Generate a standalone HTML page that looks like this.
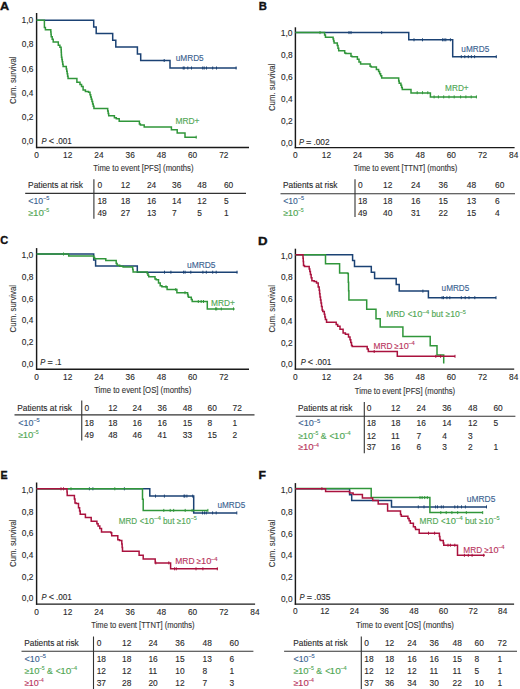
<!DOCTYPE html><html><head><meta charset="utf-8"><style>html,body{margin:0;padding:0;background:#fff;overflow:hidden;width:520px;height:689px;}svg{display:block;}text{font-family:"Liberation Sans",sans-serif;}</style></head><body>
<svg width="520" height="689" viewBox="0 0 520 689">
<rect width="520" height="689" fill="#fff"/>
<text x="-0.00" y="9.80" font-size="11" fill="#111" font-weight="bold" font-style="normal" stroke="#111" stroke-width="0.35" textLength="9.13" lengthAdjust="spacingAndGlyphs">A</text>
<text x="21.45" y="23.20" font-size="8.6" fill="#2a2a2a" font-weight="normal" font-style="normal" stroke="#2a2a2a" stroke-width="0.12" textLength="11.88" lengthAdjust="spacingAndGlyphs">1,0</text>
<text x="21.78" y="47.45" font-size="8.6" fill="#2a2a2a" font-weight="normal" font-style="normal" stroke="#2a2a2a" stroke-width="0.12" textLength="11.57" lengthAdjust="spacingAndGlyphs">0,8</text>
<text x="21.78" y="71.70" font-size="8.6" fill="#2a2a2a" font-weight="normal" font-style="normal" stroke="#2a2a2a" stroke-width="0.12" textLength="11.58" lengthAdjust="spacingAndGlyphs">0,6</text>
<text x="21.79" y="95.95" font-size="8.6" fill="#2a2a2a" font-weight="normal" font-style="normal" stroke="#2a2a2a" stroke-width="0.12" textLength="11.44" lengthAdjust="spacingAndGlyphs">0,4</text>
<text x="21.78" y="120.20" font-size="8.6" fill="#2a2a2a" font-weight="normal" font-style="normal" stroke="#2a2a2a" stroke-width="0.12" textLength="11.64" lengthAdjust="spacingAndGlyphs">0,2</text>
<text x="21.78" y="144.45" font-size="8.6" fill="#2a2a2a" font-weight="normal" font-style="normal" stroke="#2a2a2a" stroke-width="0.12" textLength="11.53" lengthAdjust="spacingAndGlyphs">0,0</text>
<text x="34.29" y="157.90" font-size="8.3" fill="#2a2a2a" text-anchor="start" font-style="normal" font-weight="normal" stroke="#2a2a2a" stroke-width="0.12">0</text>
<text x="63.08" y="157.90" font-size="8.3" fill="#2a2a2a" text-anchor="start" font-style="normal" font-weight="normal" stroke="#2a2a2a" stroke-width="0.12">12</text>
<text x="94.29" y="157.90" font-size="8.3" fill="#2a2a2a" text-anchor="start" font-style="normal" font-weight="normal" stroke="#2a2a2a" stroke-width="0.12">24</text>
<text x="125.61" y="157.90" font-size="8.3" fill="#2a2a2a" text-anchor="start" font-style="normal" font-weight="normal" stroke="#2a2a2a" stroke-width="0.12">36</text>
<text x="156.87" y="157.90" font-size="8.3" fill="#2a2a2a" text-anchor="start" font-style="normal" font-weight="normal" stroke="#2a2a2a" stroke-width="0.12">48</text>
<text x="187.94" y="157.90" font-size="8.3" fill="#2a2a2a" text-anchor="start" font-style="normal" font-weight="normal" stroke="#2a2a2a" stroke-width="0.12">60</text>
<text x="219.19" y="157.90" font-size="8.3" fill="#2a2a2a" text-anchor="start" font-style="normal" font-weight="normal" stroke="#2a2a2a" stroke-width="0.12">72</text>
<line x1="36.6" y1="13.0" x2="36.6" y2="148.15" stroke="#1a1a1a" stroke-width="1.45"/>
<line x1="35.95" y1="147.5" x2="249.0" y2="147.5" stroke="#1a1a1a" stroke-width="1.45"/>
<text x="93.33" y="170.80" font-size="9.4" fill="#333" font-weight="normal" font-style="normal" stroke="#333" stroke-width="0.12" textLength="100.14" lengthAdjust="spacingAndGlyphs">Time to event [PFS] (months)</text>
<g transform="translate(16.1,80.3) rotate(-90)"><text x="-23.69" y="0" font-size="9.5" fill="#333" stroke="#333" stroke-width="0.12" textLength="47.51" lengthAdjust="spacingAndGlyphs">Cum. survival</text></g>
<text x="41.57" y="143.90" font-size="8.5" fill="#2a2a2a" font-weight="normal" font-style="italic" stroke="#2a2a2a" stroke-width="0.12" textLength="5.07" lengthAdjust="spacingAndGlyphs">P</text>
<text x="48.67" y="143.90" font-size="8.5" fill="#2a2a2a" font-weight="normal" font-style="normal" stroke="#2a2a2a" stroke-width="0.12" textLength="5.27" lengthAdjust="spacingAndGlyphs">&lt;</text>
<text x="56.07" y="143.90" font-size="8.5" fill="#2a2a2a" font-weight="normal" font-style="normal" stroke="#2a2a2a" stroke-width="0.12" textLength="15.82" lengthAdjust="spacingAndGlyphs">.001</text>
<path d="M36.6 20.15 H93.7 V26.9 H96.2 V33.5 H112.7 V40.2 H115.8 V47.0 H137.4 V53.9 H140.7 V60.5 H170.0 V68.0 H236.5" fill="none" stroke="#1b4274" stroke-width="1.5" stroke-linejoin="miter"/>
<line x1="164.2" y1="59.0" x2="164.2" y2="62.0" stroke="#1b4274" stroke-width="1.0"/>
<line x1="183.2" y1="66.5" x2="183.2" y2="69.5" stroke="#1b4274" stroke-width="1.0"/>
<line x1="184.2" y1="66.5" x2="184.2" y2="69.5" stroke="#1b4274" stroke-width="1.0"/>
<line x1="187.8" y1="66.5" x2="187.8" y2="69.5" stroke="#1b4274" stroke-width="1.0"/>
<line x1="191.5" y1="66.5" x2="191.5" y2="69.5" stroke="#1b4274" stroke-width="1.0"/>
<line x1="202.7" y1="66.5" x2="202.7" y2="69.5" stroke="#1b4274" stroke-width="1.0"/>
<line x1="204.2" y1="66.5" x2="204.2" y2="69.5" stroke="#1b4274" stroke-width="1.0"/>
<line x1="206.5" y1="66.5" x2="206.5" y2="69.5" stroke="#1b4274" stroke-width="1.0"/>
<line x1="212.7" y1="66.5" x2="212.7" y2="69.5" stroke="#1b4274" stroke-width="1.0"/>
<line x1="216.5" y1="66.5" x2="216.5" y2="69.5" stroke="#1b4274" stroke-width="1.0"/>
<line x1="236.1" y1="66.5" x2="236.1" y2="69.5" stroke="#1b4274" stroke-width="1.0"/>
<path d="M36.6 20.15 H44.4 V22.77 H44.40 V25.40 H44.40 V27.60 H45.40 V29.80 H46.40 H50.8 V32.00 H51.00 V34.20 H51.20 V36.75 H52.20 V39.30 H53.20 V42.10 H54.80 H58.3 V45.30 H59.90 V47.30 H61.10 V49.83 H61.23 V52.37 H61.37 V54.90 H61.50 V57.22 H61.90 V59.54 H62.30 V61.86 H62.70 V64.18 H63.10 V66.50 H63.50 H66.3 V68.92 H66.74 V71.34 H67.18 V73.76 H67.62 V76.18 H68.06 V78.60 H68.50 H76.9 V82.30 H80.00 V84.40 H81.55 V86.50 H83.10 V90.00 H85.40 V91.50 H88.50 V92.30 H90.00 V94.63 H90.66 V96.96 H91.31 V99.29 H91.97 V101.61 H92.63 V103.94 H93.29 V106.27 H93.94 V108.60 H94.60 H107.7 V111.05 H108.20 V113.50 H108.70 V115.80 H110.60 H114.4 V117.70 H116.30 V118.80 H119.20 V121.20 H121.20 H139.4 V124.00 H140.40 V125.00 H144.20 V126.90 H145.20 H171.4 V129.7 H177.2 V133.0 H185.0 V137.2 H196.5" fill="none" stroke="#30963a" stroke-width="1.5" stroke-linejoin="miter"/>
<line x1="196.2" y1="135.7" x2="196.2" y2="138.7" stroke="#30963a" stroke-width="1.0"/>
<text x="175.67" y="61.00" font-size="8.3" fill="#3a6290" font-weight="normal" font-style="normal" stroke="#3a6290" stroke-width="0.12" textLength="28.07" lengthAdjust="spacingAndGlyphs">uMRD5</text>
<text x="175.41" y="123.70" font-size="8.3" fill="#4fa653" font-weight="normal" font-style="normal" stroke="#4fa653" stroke-width="0.12" textLength="24.09" lengthAdjust="spacingAndGlyphs">MRD+</text>
<text x="28.11" y="188.40" font-size="8.4" fill="#2a2a2a" font-weight="normal" font-style="normal" stroke="#2a2a2a" stroke-width="0.12" textLength="54.87" lengthAdjust="spacingAndGlyphs">Patients at risk</text>
<line x1="93.9" y1="179.2" x2="93.9" y2="218.7" stroke="#333" stroke-width="1.1"/>
<line x1="25.2" y1="193.4" x2="246.0" y2="193.4" stroke="#333" stroke-width="1.1"/>
<text x="97.38" y="188.40" font-size="8.4" fill="#2a2a2a" text-anchor="start" font-style="normal" font-weight="normal" stroke="#2a2a2a" stroke-width="0.12">0</text>
<text x="120.86" y="188.40" font-size="8.4" fill="#2a2a2a" text-anchor="start" font-style="normal" font-weight="normal" stroke="#2a2a2a" stroke-width="0.12">12</text>
<text x="146.88" y="188.40" font-size="8.4" fill="#2a2a2a" text-anchor="start" font-style="normal" font-weight="normal" stroke="#2a2a2a" stroke-width="0.12">24</text>
<text x="171.98" y="188.40" font-size="8.4" fill="#2a2a2a" text-anchor="start" font-style="normal" font-weight="normal" stroke="#2a2a2a" stroke-width="0.12">36</text>
<text x="197.32" y="188.40" font-size="8.4" fill="#2a2a2a" text-anchor="start" font-style="normal" font-weight="normal" stroke="#2a2a2a" stroke-width="0.12">48</text>
<text x="223.88" y="188.40" font-size="8.4" fill="#2a2a2a" text-anchor="start" font-style="normal" font-weight="normal" stroke="#2a2a2a" stroke-width="0.12">60</text>
<text x="28.38" y="203.70" font-size="8.4" fill="#3a6290" font-weight="normal" font-style="normal" stroke="#3a6290" stroke-width="0.12" textLength="5.15" lengthAdjust="spacingAndGlyphs">&lt;</text>
<text x="33.44" y="203.70" font-size="8.4" fill="#3a6290" font-weight="normal" font-style="normal" stroke="#3a6290" stroke-width="0.12" textLength="9.64" lengthAdjust="spacingAndGlyphs">10</text>
<text x="42.93" y="200.10" font-size="5.2" fill="#3a6290" font-weight="normal" font-style="normal" stroke="#3a6290" stroke-width="0.12" textLength="6.30" lengthAdjust="spacingAndGlyphs">−5</text>
<text x="97.38" y="203.70" font-size="8.4" fill="#2a2a2a" text-anchor="start" font-style="normal" font-weight="normal" stroke="#2a2a2a" stroke-width="0.12">18</text>
<text x="120.86" y="203.70" font-size="8.4" fill="#2a2a2a" text-anchor="start" font-style="normal" font-weight="normal" stroke="#2a2a2a" stroke-width="0.12">18</text>
<text x="146.88" y="203.70" font-size="8.4" fill="#2a2a2a" text-anchor="start" font-style="normal" font-weight="normal" stroke="#2a2a2a" stroke-width="0.12">16</text>
<text x="171.98" y="203.70" font-size="8.4" fill="#2a2a2a" text-anchor="start" font-style="normal" font-weight="normal" stroke="#2a2a2a" stroke-width="0.12">14</text>
<text x="197.32" y="203.70" font-size="8.4" fill="#2a2a2a" text-anchor="start" font-style="normal" font-weight="normal" stroke="#2a2a2a" stroke-width="0.12">12</text>
<text x="223.88" y="203.70" font-size="8.4" fill="#2a2a2a" text-anchor="start" font-style="normal" font-weight="normal" stroke="#2a2a2a" stroke-width="0.12">5</text>
<text x="28.52" y="215.70" font-size="8.4" fill="#4fa653" font-weight="normal" font-style="normal" stroke="#4fa653" stroke-width="0.12" textLength="4.80" lengthAdjust="spacingAndGlyphs">≥</text>
<text x="32.95" y="215.70" font-size="8.4" fill="#4fa653" font-weight="normal" font-style="normal" stroke="#4fa653" stroke-width="0.12" textLength="10.90" lengthAdjust="spacingAndGlyphs">10</text>
<text x="43.22" y="212.10" font-size="5.2" fill="#4fa653" font-weight="normal" font-style="normal" stroke="#4fa653" stroke-width="0.12" textLength="6.00" lengthAdjust="spacingAndGlyphs">−5</text>
<text x="97.38" y="215.70" font-size="8.4" fill="#2a2a2a" text-anchor="start" font-style="normal" font-weight="normal" stroke="#2a2a2a" stroke-width="0.12">49</text>
<text x="120.86" y="215.70" font-size="8.4" fill="#2a2a2a" text-anchor="start" font-style="normal" font-weight="normal" stroke="#2a2a2a" stroke-width="0.12">27</text>
<text x="146.88" y="215.70" font-size="8.4" fill="#2a2a2a" text-anchor="start" font-style="normal" font-weight="normal" stroke="#2a2a2a" stroke-width="0.12">13</text>
<text x="171.98" y="215.70" font-size="8.4" fill="#2a2a2a" text-anchor="start" font-style="normal" font-weight="normal" stroke="#2a2a2a" stroke-width="0.12">7</text>
<text x="197.32" y="215.70" font-size="8.4" fill="#2a2a2a" text-anchor="start" font-style="normal" font-weight="normal" stroke="#2a2a2a" stroke-width="0.12">5</text>
<text x="223.88" y="215.70" font-size="8.4" fill="#2a2a2a" text-anchor="start" font-style="normal" font-weight="normal" stroke="#2a2a2a" stroke-width="0.12">1</text>
<text x="258.66" y="9.80" font-size="11" fill="#111" font-weight="bold" font-style="normal" stroke="#111" stroke-width="0.35" textLength="8.14" lengthAdjust="spacingAndGlyphs">B</text>
<text x="280.75" y="36.45" font-size="8.6" fill="#2a2a2a" font-weight="normal" font-style="normal" stroke="#2a2a2a" stroke-width="0.12" textLength="11.88" lengthAdjust="spacingAndGlyphs">1,0</text>
<text x="281.08" y="58.30" font-size="8.6" fill="#2a2a2a" font-weight="normal" font-style="normal" stroke="#2a2a2a" stroke-width="0.12" textLength="11.57" lengthAdjust="spacingAndGlyphs">0,8</text>
<text x="281.08" y="80.15" font-size="8.6" fill="#2a2a2a" font-weight="normal" font-style="normal" stroke="#2a2a2a" stroke-width="0.12" textLength="11.58" lengthAdjust="spacingAndGlyphs">0,6</text>
<text x="281.09" y="102.00" font-size="8.6" fill="#2a2a2a" font-weight="normal" font-style="normal" stroke="#2a2a2a" stroke-width="0.12" textLength="11.44" lengthAdjust="spacingAndGlyphs">0,4</text>
<text x="281.08" y="123.85" font-size="8.6" fill="#2a2a2a" font-weight="normal" font-style="normal" stroke="#2a2a2a" stroke-width="0.12" textLength="11.64" lengthAdjust="spacingAndGlyphs">0,2</text>
<text x="281.08" y="145.70" font-size="8.6" fill="#2a2a2a" font-weight="normal" font-style="normal" stroke="#2a2a2a" stroke-width="0.12" textLength="11.53" lengthAdjust="spacingAndGlyphs">0,0</text>
<text x="292.99" y="158.00" font-size="8.3" fill="#2a2a2a" text-anchor="start" font-style="normal" font-weight="normal" stroke="#2a2a2a" stroke-width="0.12">0</text>
<text x="321.78" y="158.00" font-size="8.3" fill="#2a2a2a" text-anchor="start" font-style="normal" font-weight="normal" stroke="#2a2a2a" stroke-width="0.12">12</text>
<text x="352.99" y="158.00" font-size="8.3" fill="#2a2a2a" text-anchor="start" font-style="normal" font-weight="normal" stroke="#2a2a2a" stroke-width="0.12">24</text>
<text x="384.31" y="158.00" font-size="8.3" fill="#2a2a2a" text-anchor="start" font-style="normal" font-weight="normal" stroke="#2a2a2a" stroke-width="0.12">36</text>
<text x="415.57" y="158.00" font-size="8.3" fill="#2a2a2a" text-anchor="start" font-style="normal" font-weight="normal" stroke="#2a2a2a" stroke-width="0.12">48</text>
<text x="446.64" y="158.00" font-size="8.3" fill="#2a2a2a" text-anchor="start" font-style="normal" font-weight="normal" stroke="#2a2a2a" stroke-width="0.12">60</text>
<text x="477.89" y="158.00" font-size="8.3" fill="#2a2a2a" text-anchor="start" font-style="normal" font-weight="normal" stroke="#2a2a2a" stroke-width="0.12">72</text>
<text x="509.03" y="158.00" font-size="8.3" fill="#2a2a2a" text-anchor="start" font-style="normal" font-weight="normal" stroke="#2a2a2a" stroke-width="0.12">84</text>
<line x1="295.4" y1="27.3" x2="295.4" y2="148.25" stroke="#1a1a1a" stroke-width="1.45"/>
<line x1="294.75" y1="147.6" x2="514.6" y2="147.6" stroke="#1a1a1a" stroke-width="1.45"/>
<text x="353.63" y="171.00" font-size="9.4" fill="#333" font-weight="normal" font-style="normal" stroke="#333" stroke-width="0.12" textLength="103.73" lengthAdjust="spacingAndGlyphs">Time to event [TTNT] (months)</text>
<g transform="translate(275.1,87.4) rotate(-90)"><text x="-23.69" y="0" font-size="9.5" fill="#333" stroke="#333" stroke-width="0.12" textLength="47.51" lengthAdjust="spacingAndGlyphs">Cum. survival</text></g>
<text x="298.97" y="144.80" font-size="8.5" fill="#2a2a2a" font-weight="normal" font-style="italic" stroke="#2a2a2a" stroke-width="0.12" textLength="5.07" lengthAdjust="spacingAndGlyphs">P</text>
<text x="306.07" y="144.80" font-size="8.5" fill="#2a2a2a" font-weight="normal" font-style="normal" stroke="#2a2a2a" stroke-width="0.12" textLength="5.27" lengthAdjust="spacingAndGlyphs">=</text>
<text x="313.45" y="144.80" font-size="8.5" fill="#2a2a2a" font-weight="normal" font-style="normal" stroke="#2a2a2a" stroke-width="0.12" textLength="16.17" lengthAdjust="spacingAndGlyphs">.002</text>
<path d="M295.4 32.6 H408.75 V39.8 H452.7 V56.7 H496.5" fill="none" stroke="#1b4274" stroke-width="1.5" stroke-linejoin="miter"/>
<line x1="349" y1="31.1" x2="349" y2="34.1" stroke="#1b4274" stroke-width="1.0"/>
<line x1="351" y1="31.1" x2="351" y2="34.1" stroke="#1b4274" stroke-width="1.0"/>
<line x1="381.7" y1="31.1" x2="381.7" y2="34.1" stroke="#1b4274" stroke-width="1.0"/>
<line x1="414" y1="38.3" x2="414" y2="41.3" stroke="#1b4274" stroke-width="1.0"/>
<line x1="422.5" y1="38.3" x2="422.5" y2="41.3" stroke="#1b4274" stroke-width="1.0"/>
<line x1="442.6" y1="38.3" x2="442.6" y2="41.3" stroke="#1b4274" stroke-width="1.0"/>
<line x1="444.1" y1="38.3" x2="444.1" y2="41.3" stroke="#1b4274" stroke-width="1.0"/>
<line x1="445.8" y1="38.3" x2="445.8" y2="41.3" stroke="#1b4274" stroke-width="1.0"/>
<line x1="450.4" y1="38.3" x2="450.4" y2="41.3" stroke="#1b4274" stroke-width="1.0"/>
<line x1="461.3" y1="55.2" x2="461.3" y2="58.2" stroke="#1b4274" stroke-width="1.0"/>
<line x1="464.8" y1="55.2" x2="464.8" y2="58.2" stroke="#1b4274" stroke-width="1.0"/>
<line x1="468.3" y1="55.2" x2="468.3" y2="58.2" stroke="#1b4274" stroke-width="1.0"/>
<line x1="471.4" y1="55.2" x2="471.4" y2="58.2" stroke="#1b4274" stroke-width="1.0"/>
<line x1="474.6" y1="55.2" x2="474.6" y2="58.2" stroke="#1b4274" stroke-width="1.0"/>
<line x1="496.3" y1="55.2" x2="496.3" y2="58.2" stroke="#1b4274" stroke-width="1.0"/>
<path d="M295.4 32.6 H324.6 V34.95 H325.45 V37.30 H326.30 H333.1 V39.10 H333.60 V40.90 H334.10 V43.00 H337.30 V45.60 H338.00 V48.20 H338.70 V50.80 H339.40 H344.7 V52.90 H345.80 V53.60 H351.00 V56.30 H352.10 V56.70 H357.40 V59.35 H359.00 V62.00 H360.60 V64.10 H362.70 H370.1 V66.30 H371.20 V66.90 H376.40 V69.40 H378.60 V71.53 H379.63 V73.67 H380.67 V75.80 H381.70 V77.90 H383.40 H398.7 V81.00 H399.20 V83.20 H400.90 V85.30 H401.60 V87.40 H402.30 V89.50 H403.00 H411.0 V92.9 H430.4 V97.1 H476.6" fill="none" stroke="#30963a" stroke-width="1.5" stroke-linejoin="miter"/>
<line x1="320" y1="31.1" x2="320" y2="34.1" stroke="#30963a" stroke-width="1.0"/>
<line x1="417.2" y1="91.2" x2="417.2" y2="94.2" stroke="#30963a" stroke-width="1.0"/>
<line x1="422.5" y1="91.2" x2="422.5" y2="94.2" stroke="#30963a" stroke-width="1.0"/>
<line x1="427.8" y1="91.2" x2="427.8" y2="94.2" stroke="#30963a" stroke-width="1.0"/>
<line x1="434.1" y1="95.4" x2="434.1" y2="98.4" stroke="#30963a" stroke-width="1.0"/>
<line x1="438.4" y1="95.4" x2="438.4" y2="98.4" stroke="#30963a" stroke-width="1.0"/>
<line x1="443.7" y1="95.4" x2="443.7" y2="98.4" stroke="#30963a" stroke-width="1.0"/>
<line x1="449" y1="95.4" x2="449" y2="98.4" stroke="#30963a" stroke-width="1.0"/>
<line x1="454.2" y1="95.4" x2="454.2" y2="98.4" stroke="#30963a" stroke-width="1.0"/>
<line x1="460.6" y1="95.4" x2="460.6" y2="98.4" stroke="#30963a" stroke-width="1.0"/>
<line x1="465.9" y1="95.4" x2="465.9" y2="98.4" stroke="#30963a" stroke-width="1.0"/>
<line x1="471.2" y1="95.4" x2="471.2" y2="98.4" stroke="#30963a" stroke-width="1.0"/>
<line x1="476.4" y1="95.4" x2="476.4" y2="98.4" stroke="#30963a" stroke-width="1.0"/>
<text x="461.37" y="51.80" font-size="8.3" fill="#3a6290" font-weight="normal" font-style="normal" stroke="#3a6290" stroke-width="0.12" textLength="27.97" lengthAdjust="spacingAndGlyphs">uMRD5</text>
<text x="445.12" y="90.80" font-size="8.3" fill="#4fa653" font-weight="normal" font-style="normal" stroke="#4fa653" stroke-width="0.12" textLength="23.56" lengthAdjust="spacingAndGlyphs">MRD+</text>
<text x="283.07" y="188.20" font-size="8.4" fill="#2a2a2a" font-weight="normal" font-style="normal" stroke="#2a2a2a" stroke-width="0.12" textLength="54.42" lengthAdjust="spacingAndGlyphs">Patients at risk</text>
<line x1="355.0" y1="179.3" x2="355.0" y2="217.0" stroke="#333" stroke-width="1.1"/>
<line x1="280.5" y1="193.7" x2="515.0" y2="193.7" stroke="#333" stroke-width="1.1"/>
<text x="357.88" y="188.20" font-size="8.4" fill="#2a2a2a" text-anchor="start" font-style="normal" font-weight="normal" stroke="#2a2a2a" stroke-width="0.12">0</text>
<text x="383.06" y="188.20" font-size="8.4" fill="#2a2a2a" text-anchor="start" font-style="normal" font-weight="normal" stroke="#2a2a2a" stroke-width="0.12">12</text>
<text x="410.98" y="188.20" font-size="8.4" fill="#2a2a2a" text-anchor="start" font-style="normal" font-weight="normal" stroke="#2a2a2a" stroke-width="0.12">24</text>
<text x="438.58" y="188.20" font-size="8.4" fill="#2a2a2a" text-anchor="start" font-style="normal" font-weight="normal" stroke="#2a2a2a" stroke-width="0.12">36</text>
<text x="466.82" y="188.20" font-size="8.4" fill="#2a2a2a" text-anchor="start" font-style="normal" font-weight="normal" stroke="#2a2a2a" stroke-width="0.12">48</text>
<text x="494.98" y="188.20" font-size="8.4" fill="#2a2a2a" text-anchor="start" font-style="normal" font-weight="normal" stroke="#2a2a2a" stroke-width="0.12">60</text>
<text x="283.33" y="203.70" font-size="8.4" fill="#3a6290" font-weight="normal" font-style="normal" stroke="#3a6290" stroke-width="0.12" textLength="5.09" lengthAdjust="spacingAndGlyphs">&lt;</text>
<text x="288.35" y="203.70" font-size="8.4" fill="#3a6290" font-weight="normal" font-style="normal" stroke="#3a6290" stroke-width="0.12" textLength="9.55" lengthAdjust="spacingAndGlyphs">10</text>
<text x="297.74" y="200.10" font-size="5.2" fill="#3a6290" font-weight="normal" font-style="normal" stroke="#3a6290" stroke-width="0.12" textLength="6.24" lengthAdjust="spacingAndGlyphs">−5</text>
<text x="357.88" y="203.70" font-size="8.4" fill="#2a2a2a" text-anchor="start" font-style="normal" font-weight="normal" stroke="#2a2a2a" stroke-width="0.12">18</text>
<text x="383.06" y="203.70" font-size="8.4" fill="#2a2a2a" text-anchor="start" font-style="normal" font-weight="normal" stroke="#2a2a2a" stroke-width="0.12">18</text>
<text x="410.98" y="203.70" font-size="8.4" fill="#2a2a2a" text-anchor="start" font-style="normal" font-weight="normal" stroke="#2a2a2a" stroke-width="0.12">16</text>
<text x="438.58" y="203.70" font-size="8.4" fill="#2a2a2a" text-anchor="start" font-style="normal" font-weight="normal" stroke="#2a2a2a" stroke-width="0.12">15</text>
<text x="466.82" y="203.70" font-size="8.4" fill="#2a2a2a" text-anchor="start" font-style="normal" font-weight="normal" stroke="#2a2a2a" stroke-width="0.12">13</text>
<text x="494.98" y="203.70" font-size="8.4" fill="#2a2a2a" text-anchor="start" font-style="normal" font-weight="normal" stroke="#2a2a2a" stroke-width="0.12">6</text>
<text x="283.48" y="216.00" font-size="8.4" fill="#4fa653" font-weight="normal" font-style="normal" stroke="#4fa653" stroke-width="0.12" textLength="4.70" lengthAdjust="spacingAndGlyphs">≥</text>
<text x="287.80" y="216.00" font-size="8.4" fill="#4fa653" font-weight="normal" font-style="normal" stroke="#4fa653" stroke-width="0.12" textLength="10.66" lengthAdjust="spacingAndGlyphs">10</text>
<text x="297.85" y="212.40" font-size="5.2" fill="#4fa653" font-weight="normal" font-style="normal" stroke="#4fa653" stroke-width="0.12" textLength="5.87" lengthAdjust="spacingAndGlyphs">−5</text>
<text x="357.88" y="216.00" font-size="8.4" fill="#2a2a2a" text-anchor="start" font-style="normal" font-weight="normal" stroke="#2a2a2a" stroke-width="0.12">49</text>
<text x="383.06" y="216.00" font-size="8.4" fill="#2a2a2a" text-anchor="start" font-style="normal" font-weight="normal" stroke="#2a2a2a" stroke-width="0.12">40</text>
<text x="410.98" y="216.00" font-size="8.4" fill="#2a2a2a" text-anchor="start" font-style="normal" font-weight="normal" stroke="#2a2a2a" stroke-width="0.12">31</text>
<text x="438.58" y="216.00" font-size="8.4" fill="#2a2a2a" text-anchor="start" font-style="normal" font-weight="normal" stroke="#2a2a2a" stroke-width="0.12">22</text>
<text x="466.82" y="216.00" font-size="8.4" fill="#2a2a2a" text-anchor="start" font-style="normal" font-weight="normal" stroke="#2a2a2a" stroke-width="0.12">15</text>
<text x="494.98" y="216.00" font-size="8.4" fill="#2a2a2a" text-anchor="start" font-style="normal" font-weight="normal" stroke="#2a2a2a" stroke-width="0.12">4</text>
<text x="0.16" y="244.40" font-size="11" fill="#111" font-weight="bold" font-style="normal" stroke="#111" stroke-width="0.35" textLength="7.95" lengthAdjust="spacingAndGlyphs">C</text>
<text x="21.45" y="258.25" font-size="8.6" fill="#2a2a2a" font-weight="normal" font-style="normal" stroke="#2a2a2a" stroke-width="0.12" textLength="11.88" lengthAdjust="spacingAndGlyphs">1,0</text>
<text x="21.78" y="279.95" font-size="8.6" fill="#2a2a2a" font-weight="normal" font-style="normal" stroke="#2a2a2a" stroke-width="0.12" textLength="11.57" lengthAdjust="spacingAndGlyphs">0,8</text>
<text x="21.78" y="301.65" font-size="8.6" fill="#2a2a2a" font-weight="normal" font-style="normal" stroke="#2a2a2a" stroke-width="0.12" textLength="11.58" lengthAdjust="spacingAndGlyphs">0,6</text>
<text x="21.79" y="323.35" font-size="8.6" fill="#2a2a2a" font-weight="normal" font-style="normal" stroke="#2a2a2a" stroke-width="0.12" textLength="11.44" lengthAdjust="spacingAndGlyphs">0,4</text>
<text x="21.78" y="345.05" font-size="8.6" fill="#2a2a2a" font-weight="normal" font-style="normal" stroke="#2a2a2a" stroke-width="0.12" textLength="11.64" lengthAdjust="spacingAndGlyphs">0,2</text>
<text x="21.78" y="366.75" font-size="8.6" fill="#2a2a2a" font-weight="normal" font-style="normal" stroke="#2a2a2a" stroke-width="0.12" textLength="11.53" lengthAdjust="spacingAndGlyphs">0,0</text>
<text x="34.29" y="379.50" font-size="8.3" fill="#2a2a2a" text-anchor="start" font-style="normal" font-weight="normal" stroke="#2a2a2a" stroke-width="0.12">0</text>
<text x="63.08" y="379.50" font-size="8.3" fill="#2a2a2a" text-anchor="start" font-style="normal" font-weight="normal" stroke="#2a2a2a" stroke-width="0.12">12</text>
<text x="94.29" y="379.50" font-size="8.3" fill="#2a2a2a" text-anchor="start" font-style="normal" font-weight="normal" stroke="#2a2a2a" stroke-width="0.12">24</text>
<text x="125.61" y="379.50" font-size="8.3" fill="#2a2a2a" text-anchor="start" font-style="normal" font-weight="normal" stroke="#2a2a2a" stroke-width="0.12">36</text>
<text x="156.87" y="379.50" font-size="8.3" fill="#2a2a2a" text-anchor="start" font-style="normal" font-weight="normal" stroke="#2a2a2a" stroke-width="0.12">48</text>
<text x="187.94" y="379.50" font-size="8.3" fill="#2a2a2a" text-anchor="start" font-style="normal" font-weight="normal" stroke="#2a2a2a" stroke-width="0.12">60</text>
<text x="219.19" y="379.50" font-size="8.3" fill="#2a2a2a" text-anchor="start" font-style="normal" font-weight="normal" stroke="#2a2a2a" stroke-width="0.12">72</text>
<line x1="36.6" y1="248.1" x2="36.6" y2="369.95" stroke="#1a1a1a" stroke-width="1.45"/>
<line x1="35.95" y1="369.3" x2="249.0" y2="369.3" stroke="#1a1a1a" stroke-width="1.45"/>
<text x="94.13" y="393.30" font-size="9.4" fill="#333" font-weight="normal" font-style="normal" stroke="#333" stroke-width="0.12" textLength="97.09" lengthAdjust="spacingAndGlyphs">Time to event [OS] (months)</text>
<g transform="translate(16.1,308.7) rotate(-90)"><text x="-23.69" y="0" font-size="9.5" fill="#333" stroke="#333" stroke-width="0.12" textLength="47.51" lengthAdjust="spacingAndGlyphs">Cum. survival</text></g>
<text x="40.37" y="364.80" font-size="8.5" fill="#2a2a2a" font-weight="normal" font-style="italic" stroke="#2a2a2a" stroke-width="0.12" textLength="5.07" lengthAdjust="spacingAndGlyphs">P</text>
<text x="47.47" y="364.80" font-size="8.5" fill="#2a2a2a" font-weight="normal" font-style="normal" stroke="#2a2a2a" stroke-width="0.12" textLength="5.27" lengthAdjust="spacingAndGlyphs">=</text>
<text x="54.88" y="364.80" font-size="8.5" fill="#2a2a2a" font-weight="normal" font-style="normal" stroke="#2a2a2a" stroke-width="0.12" textLength="6.71" lengthAdjust="spacingAndGlyphs">.1</text>
<path d="M36.6 254.0 H93.7 V260.0 H95.6 V266.0 H137.3 V272.2 H237.4" fill="none" stroke="#1b4274" stroke-width="1.5" stroke-linejoin="miter"/>
<line x1="164.5" y1="270.7" x2="164.5" y2="273.7" stroke="#1b4274" stroke-width="1.0"/>
<line x1="170.9" y1="270.7" x2="170.9" y2="273.7" stroke="#1b4274" stroke-width="1.0"/>
<line x1="183.6" y1="270.7" x2="183.6" y2="273.7" stroke="#1b4274" stroke-width="1.0"/>
<line x1="185.1" y1="270.7" x2="185.1" y2="273.7" stroke="#1b4274" stroke-width="1.0"/>
<line x1="190.8" y1="270.7" x2="190.8" y2="273.7" stroke="#1b4274" stroke-width="1.0"/>
<line x1="202.9" y1="270.7" x2="202.9" y2="273.7" stroke="#1b4274" stroke-width="1.0"/>
<line x1="206.3" y1="270.7" x2="206.3" y2="273.7" stroke="#1b4274" stroke-width="1.0"/>
<line x1="212.7" y1="270.7" x2="212.7" y2="273.7" stroke="#1b4274" stroke-width="1.0"/>
<line x1="216.2" y1="270.7" x2="216.2" y2="273.7" stroke="#1b4274" stroke-width="1.0"/>
<line x1="237" y1="270.7" x2="237" y2="273.7" stroke="#1b4274" stroke-width="1.0"/>
<path d="M36.6 254.0 H68.7 V256.1 H93.7 V257.50 H94.60 V258.70 H97.20 H105.8 V260.50 H106.70 H116.2 V263.60 H117.10 V265.30 H119.70 V266.20 H123.10 V267.00 H125.70 H132.7 V269.45 H133.10 V271.90 H133.50 H147.2 V273.55 H147.95 V275.20 H148.70 V276.80 H150.40 H155.0 V279.10 H156.20 V279.80 H158.50 V282.90 H160.20 V285.80 H161.90 V286.70 H163.70 H167.1 V289.50 H167.70 H176.9 V292.70 H178.10 H187.6 V294.45 H188.05 V296.20 H188.50 V297.30 H191.30 V299.40 H192.20 V301.50 H193.10 H207.3 V308.9 H234.6" fill="none" stroke="#30963a" stroke-width="1.5" stroke-linejoin="miter"/>
<line x1="63.5" y1="252.5" x2="63.5" y2="255.5" stroke="#30963a" stroke-width="1.0"/>
<line x1="166" y1="285.2" x2="166" y2="288.2" stroke="#30963a" stroke-width="1.0"/>
<line x1="175.8" y1="288.0" x2="175.8" y2="291.0" stroke="#30963a" stroke-width="1.0"/>
<line x1="185" y1="291.2" x2="185" y2="294.2" stroke="#30963a" stroke-width="1.0"/>
<line x1="198.3" y1="300.0" x2="198.3" y2="303.0" stroke="#30963a" stroke-width="1.0"/>
<line x1="201.2" y1="300.0" x2="201.2" y2="303.0" stroke="#30963a" stroke-width="1.0"/>
<line x1="203.5" y1="300.0" x2="203.5" y2="303.0" stroke="#30963a" stroke-width="1.0"/>
<line x1="215.6" y1="307.4" x2="215.6" y2="310.4" stroke="#30963a" stroke-width="1.0"/>
<line x1="216.7" y1="307.4" x2="216.7" y2="310.4" stroke="#30963a" stroke-width="1.0"/>
<line x1="221.3" y1="307.4" x2="221.3" y2="310.4" stroke="#30963a" stroke-width="1.0"/>
<line x1="233.5" y1="307.4" x2="233.5" y2="310.4" stroke="#30963a" stroke-width="1.0"/>
<text x="186.96" y="267.90" font-size="8.3" fill="#3a6290" font-weight="normal" font-style="normal" stroke="#3a6290" stroke-width="0.12" textLength="28.59" lengthAdjust="spacingAndGlyphs">uMRD5</text>
<text x="211.12" y="305.80" font-size="8.3" fill="#4fa653" font-weight="normal" font-style="normal" stroke="#4fa653" stroke-width="0.12" textLength="23.88" lengthAdjust="spacingAndGlyphs">MRD+</text>
<text x="17.32" y="410.50" font-size="8.4" fill="#2a2a2a" font-weight="normal" font-style="normal" stroke="#2a2a2a" stroke-width="0.12" textLength="54.67" lengthAdjust="spacingAndGlyphs">Patients at risk</text>
<line x1="81.75" y1="400.5" x2="81.75" y2="440.5" stroke="#333" stroke-width="1.1"/>
<line x1="14.5" y1="414.9" x2="254.5" y2="414.9" stroke="#333" stroke-width="1.1"/>
<text x="84.58" y="410.50" font-size="8.4" fill="#2a2a2a" text-anchor="start" font-style="normal" font-weight="normal" stroke="#2a2a2a" stroke-width="0.12">0</text>
<text x="108.16" y="410.50" font-size="8.4" fill="#2a2a2a" text-anchor="start" font-style="normal" font-weight="normal" stroke="#2a2a2a" stroke-width="0.12">12</text>
<text x="132.48" y="410.50" font-size="8.4" fill="#2a2a2a" text-anchor="start" font-style="normal" font-weight="normal" stroke="#2a2a2a" stroke-width="0.12">24</text>
<text x="157.48" y="410.50" font-size="8.4" fill="#2a2a2a" text-anchor="start" font-style="normal" font-weight="normal" stroke="#2a2a2a" stroke-width="0.12">36</text>
<text x="182.82" y="410.50" font-size="8.4" fill="#2a2a2a" text-anchor="start" font-style="normal" font-weight="normal" stroke="#2a2a2a" stroke-width="0.12">48</text>
<text x="207.48" y="410.50" font-size="8.4" fill="#2a2a2a" text-anchor="start" font-style="normal" font-weight="normal" stroke="#2a2a2a" stroke-width="0.12">60</text>
<text x="232.58" y="410.50" font-size="8.4" fill="#2a2a2a" text-anchor="start" font-style="normal" font-weight="normal" stroke="#2a2a2a" stroke-width="0.12">72</text>
<text x="18.32" y="425.60" font-size="8.4" fill="#3a6290" font-weight="normal" font-style="normal" stroke="#3a6290" stroke-width="0.12" textLength="5.29" lengthAdjust="spacingAndGlyphs">&lt;</text>
<text x="23.52" y="425.60" font-size="8.4" fill="#3a6290" font-weight="normal" font-style="normal" stroke="#3a6290" stroke-width="0.12" textLength="9.90" lengthAdjust="spacingAndGlyphs">10</text>
<text x="33.27" y="422.00" font-size="5.2" fill="#3a6290" font-weight="normal" font-style="normal" stroke="#3a6290" stroke-width="0.12" textLength="6.47" lengthAdjust="spacingAndGlyphs">−5</text>
<text x="84.58" y="425.60" font-size="8.4" fill="#2a2a2a" text-anchor="start" font-style="normal" font-weight="normal" stroke="#2a2a2a" stroke-width="0.12">18</text>
<text x="108.16" y="425.60" font-size="8.4" fill="#2a2a2a" text-anchor="start" font-style="normal" font-weight="normal" stroke="#2a2a2a" stroke-width="0.12">18</text>
<text x="132.48" y="425.60" font-size="8.4" fill="#2a2a2a" text-anchor="start" font-style="normal" font-weight="normal" stroke="#2a2a2a" stroke-width="0.12">16</text>
<text x="157.48" y="425.60" font-size="8.4" fill="#2a2a2a" text-anchor="start" font-style="normal" font-weight="normal" stroke="#2a2a2a" stroke-width="0.12">16</text>
<text x="182.82" y="425.60" font-size="8.4" fill="#2a2a2a" text-anchor="start" font-style="normal" font-weight="normal" stroke="#2a2a2a" stroke-width="0.12">15</text>
<text x="207.48" y="425.60" font-size="8.4" fill="#2a2a2a" text-anchor="start" font-style="normal" font-weight="normal" stroke="#2a2a2a" stroke-width="0.12">8</text>
<text x="232.58" y="425.60" font-size="8.4" fill="#2a2a2a" text-anchor="start" font-style="normal" font-weight="normal" stroke="#2a2a2a" stroke-width="0.12">1</text>
<text x="18.48" y="437.80" font-size="8.4" fill="#4fa653" font-weight="normal" font-style="normal" stroke="#4fa653" stroke-width="0.12" textLength="4.70" lengthAdjust="spacingAndGlyphs">≥</text>
<text x="22.80" y="437.80" font-size="8.4" fill="#4fa653" font-weight="normal" font-style="normal" stroke="#4fa653" stroke-width="0.12" textLength="10.66" lengthAdjust="spacingAndGlyphs">10</text>
<text x="32.85" y="434.20" font-size="5.2" fill="#4fa653" font-weight="normal" font-style="normal" stroke="#4fa653" stroke-width="0.12" textLength="5.87" lengthAdjust="spacingAndGlyphs">−5</text>
<text x="84.58" y="437.80" font-size="8.4" fill="#2a2a2a" text-anchor="start" font-style="normal" font-weight="normal" stroke="#2a2a2a" stroke-width="0.12">49</text>
<text x="108.16" y="437.80" font-size="8.4" fill="#2a2a2a" text-anchor="start" font-style="normal" font-weight="normal" stroke="#2a2a2a" stroke-width="0.12">48</text>
<text x="132.48" y="437.80" font-size="8.4" fill="#2a2a2a" text-anchor="start" font-style="normal" font-weight="normal" stroke="#2a2a2a" stroke-width="0.12">46</text>
<text x="157.48" y="437.80" font-size="8.4" fill="#2a2a2a" text-anchor="start" font-style="normal" font-weight="normal" stroke="#2a2a2a" stroke-width="0.12">41</text>
<text x="182.82" y="437.80" font-size="8.4" fill="#2a2a2a" text-anchor="start" font-style="normal" font-weight="normal" stroke="#2a2a2a" stroke-width="0.12">33</text>
<text x="207.48" y="437.80" font-size="8.4" fill="#2a2a2a" text-anchor="start" font-style="normal" font-weight="normal" stroke="#2a2a2a" stroke-width="0.12">15</text>
<text x="232.58" y="437.80" font-size="8.4" fill="#2a2a2a" text-anchor="start" font-style="normal" font-weight="normal" stroke="#2a2a2a" stroke-width="0.12">2</text>
<text x="258.13" y="244.60" font-size="11" fill="#111" font-weight="bold" font-style="normal" stroke="#111" stroke-width="0.35" textLength="9.53" lengthAdjust="spacingAndGlyphs">D</text>
<text x="280.65" y="258.75" font-size="8.6" fill="#2a2a2a" font-weight="normal" font-style="normal" stroke="#2a2a2a" stroke-width="0.12" textLength="11.88" lengthAdjust="spacingAndGlyphs">1,0</text>
<text x="280.98" y="280.45" font-size="8.6" fill="#2a2a2a" font-weight="normal" font-style="normal" stroke="#2a2a2a" stroke-width="0.12" textLength="11.57" lengthAdjust="spacingAndGlyphs">0,8</text>
<text x="280.98" y="302.15" font-size="8.6" fill="#2a2a2a" font-weight="normal" font-style="normal" stroke="#2a2a2a" stroke-width="0.12" textLength="11.58" lengthAdjust="spacingAndGlyphs">0,6</text>
<text x="280.99" y="323.85" font-size="8.6" fill="#2a2a2a" font-weight="normal" font-style="normal" stroke="#2a2a2a" stroke-width="0.12" textLength="11.44" lengthAdjust="spacingAndGlyphs">0,4</text>
<text x="280.98" y="345.55" font-size="8.6" fill="#2a2a2a" font-weight="normal" font-style="normal" stroke="#2a2a2a" stroke-width="0.12" textLength="11.64" lengthAdjust="spacingAndGlyphs">0,2</text>
<text x="280.98" y="367.25" font-size="8.6" fill="#2a2a2a" font-weight="normal" font-style="normal" stroke="#2a2a2a" stroke-width="0.12" textLength="11.53" lengthAdjust="spacingAndGlyphs">0,0</text>
<text x="292.99" y="379.80" font-size="8.3" fill="#2a2a2a" text-anchor="start" font-style="normal" font-weight="normal" stroke="#2a2a2a" stroke-width="0.12">0</text>
<text x="321.78" y="379.80" font-size="8.3" fill="#2a2a2a" text-anchor="start" font-style="normal" font-weight="normal" stroke="#2a2a2a" stroke-width="0.12">12</text>
<text x="352.99" y="379.80" font-size="8.3" fill="#2a2a2a" text-anchor="start" font-style="normal" font-weight="normal" stroke="#2a2a2a" stroke-width="0.12">24</text>
<text x="384.31" y="379.80" font-size="8.3" fill="#2a2a2a" text-anchor="start" font-style="normal" font-weight="normal" stroke="#2a2a2a" stroke-width="0.12">36</text>
<text x="415.57" y="379.80" font-size="8.3" fill="#2a2a2a" text-anchor="start" font-style="normal" font-weight="normal" stroke="#2a2a2a" stroke-width="0.12">48</text>
<text x="446.64" y="379.80" font-size="8.3" fill="#2a2a2a" text-anchor="start" font-style="normal" font-weight="normal" stroke="#2a2a2a" stroke-width="0.12">60</text>
<text x="477.89" y="379.80" font-size="8.3" fill="#2a2a2a" text-anchor="start" font-style="normal" font-weight="normal" stroke="#2a2a2a" stroke-width="0.12">72</text>
<text x="509.03" y="379.80" font-size="8.3" fill="#2a2a2a" text-anchor="start" font-style="normal" font-weight="normal" stroke="#2a2a2a" stroke-width="0.12">84</text>
<line x1="295.4" y1="248.7" x2="295.4" y2="369.75" stroke="#1a1a1a" stroke-width="1.45"/>
<line x1="294.75" y1="369.1" x2="514.2" y2="369.1" stroke="#1a1a1a" stroke-width="1.45"/>
<text x="354.83" y="393.70" font-size="9.4" fill="#333" font-weight="normal" font-style="normal" stroke="#333" stroke-width="0.12" textLength="100.34" lengthAdjust="spacingAndGlyphs">Time to event [PFS] (months)</text>
<g transform="translate(275.1,308.9) rotate(-90)"><text x="-23.69" y="0" font-size="9.5" fill="#333" stroke="#333" stroke-width="0.12" textLength="47.51" lengthAdjust="spacingAndGlyphs">Cum. survival</text></g>
<text x="300.77" y="365.40" font-size="8.5" fill="#2a2a2a" font-weight="normal" font-style="italic" stroke="#2a2a2a" stroke-width="0.12" textLength="5.07" lengthAdjust="spacingAndGlyphs">P</text>
<text x="307.87" y="365.40" font-size="8.5" fill="#2a2a2a" font-weight="normal" font-style="normal" stroke="#2a2a2a" stroke-width="0.12" textLength="5.27" lengthAdjust="spacingAndGlyphs">&lt;</text>
<text x="315.25" y="365.40" font-size="8.5" fill="#2a2a2a" font-weight="normal" font-style="normal" stroke="#2a2a2a" stroke-width="0.12" textLength="16.15" lengthAdjust="spacingAndGlyphs">.001</text>
<path d="M295.4 254.8 H352.6 V260.6 H354.5 V266.5 H371.3 V272.3 H374.6 V278.5 H396.2 V284.5 H399.2 V291.1 H428.4 V297.7 H496.0" fill="none" stroke="#1b4274" stroke-width="1.5" stroke-linejoin="miter"/>
<line x1="422.9" y1="289.6" x2="422.9" y2="292.6" stroke="#1b4274" stroke-width="1.0"/>
<line x1="442.1" y1="296.2" x2="442.1" y2="299.2" stroke="#1b4274" stroke-width="1.0"/>
<line x1="443.5" y1="296.2" x2="443.5" y2="299.2" stroke="#1b4274" stroke-width="1.0"/>
<line x1="446.9" y1="296.2" x2="446.9" y2="299.2" stroke="#1b4274" stroke-width="1.0"/>
<line x1="449.8" y1="296.2" x2="449.8" y2="299.2" stroke="#1b4274" stroke-width="1.0"/>
<line x1="461.3" y1="296.2" x2="461.3" y2="299.2" stroke="#1b4274" stroke-width="1.0"/>
<line x1="465.2" y1="296.2" x2="465.2" y2="299.2" stroke="#1b4274" stroke-width="1.0"/>
<line x1="469" y1="296.2" x2="469" y2="299.2" stroke="#1b4274" stroke-width="1.0"/>
<line x1="474.8" y1="296.2" x2="474.8" y2="299.2" stroke="#1b4274" stroke-width="1.0"/>
<line x1="496" y1="296.2" x2="496" y2="299.2" stroke="#1b4274" stroke-width="1.0"/>
<path d="M295.4 254.8 H325.5 V263.8 H339.6 V272.9 H347.6 V273.60 H348.30 V282.15 H348.60 V290.70 H348.90 V300.00 H350.20 H366.7 V309.2 H376.0 V318.8 H380.2 V327.1 H402.9 V336.5 H430.2 V345.8 H437.0 V355.0 H443.7 V363.5" fill="none" stroke="#30963a" stroke-width="1.5" stroke-linejoin="miter"/>
<path d="M295.4 254.8 H303.0 V258.15 H303.25 V261.50 H303.50 V265.40 H304.50 V266.60 H305.00 H309.2 V269.05 H309.80 V271.50 H310.40 V274.60 H311.15 V277.70 H311.90 V280.80 H314.20 V281.50 H316.50 V283.10 H318.20 V286.90 H319.20 V290.35 H319.60 V293.80 H320.00 V296.90 H320.50 V300.00 H321.00 V303.10 H321.50 V306.55 H322.15 V310.00 H322.80 V311.50 H324.30 V314.20 H324.85 V316.90 H325.40 V319.60 H326.55 V322.30 H327.70 H336.2 V324.60 H337.70 V326.20 H340.00 V329.20 H343.10 V333.10 H345.40 V334.20 H348.50 V336.90 H350.00 V339.73 H350.77 V342.57 H351.53 V345.40 H352.30 V346.50 H353.10 H367.2 V349.00 H368.30 V351.50 H369.40 H397.3 V356.3 H455.0" fill="none" stroke="#aa123e" stroke-width="1.5" stroke-linejoin="miter"/>
<line x1="374.2" y1="350.0" x2="374.2" y2="353.0" stroke="#aa123e" stroke-width="1.0"/>
<line x1="435.8" y1="354.8" x2="435.8" y2="357.8" stroke="#aa123e" stroke-width="1.0"/>
<line x1="440.6" y1="354.8" x2="440.6" y2="357.8" stroke="#aa123e" stroke-width="1.0"/>
<line x1="455" y1="354.8" x2="455" y2="357.8" stroke="#aa123e" stroke-width="1.0"/>
<text x="441.58" y="291.10" font-size="8.3" fill="#3a6290" font-weight="normal" font-style="normal" stroke="#3a6290" stroke-width="0.12" textLength="27.77" lengthAdjust="spacingAndGlyphs">uMRD5</text>
<text x="386.32" y="317.30" font-size="8.3" fill="#4fa653" font-weight="normal" font-style="normal" stroke="#4fa653" stroke-width="0.12" textLength="18.77" lengthAdjust="spacingAndGlyphs">MRD</text>
<text x="407.73" y="317.30" font-size="8.3" fill="#4fa653" font-weight="normal" font-style="normal" stroke="#4fa653" stroke-width="0.12" textLength="4.55" lengthAdjust="spacingAndGlyphs">&lt;</text>
<text x="412.09" y="317.30" font-size="8.3" fill="#4fa653" font-weight="normal" font-style="normal" stroke="#4fa653" stroke-width="0.12" textLength="10.37" lengthAdjust="spacingAndGlyphs">10</text>
<text x="422.10" y="313.70" font-size="5.2" fill="#4fa653" font-weight="normal" font-style="normal" stroke="#4fa653" stroke-width="0.12" textLength="7.18" lengthAdjust="spacingAndGlyphs">−4</text>
<text x="431.46" y="317.30" font-size="8.3" fill="#4fa653" font-weight="normal" font-style="normal" stroke="#4fa653" stroke-width="0.12" textLength="11.69" lengthAdjust="spacingAndGlyphs">but</text>
<text x="445.75" y="317.30" font-size="8.3" fill="#4fa653" font-weight="normal" font-style="normal" stroke="#4fa653" stroke-width="0.12" textLength="4.29" lengthAdjust="spacingAndGlyphs">≥</text>
<text x="450.15" y="317.30" font-size="8.3" fill="#4fa653" font-weight="normal" font-style="normal" stroke="#4fa653" stroke-width="0.12" textLength="9.59" lengthAdjust="spacingAndGlyphs">10</text>
<text x="459.63" y="313.70" font-size="5.2" fill="#4fa653" font-weight="normal" font-style="normal" stroke="#4fa653" stroke-width="0.12" textLength="6.30" lengthAdjust="spacingAndGlyphs">−5</text>
<text x="373.52" y="348.70" font-size="8.3" fill="#b8335c" font-weight="normal" font-style="normal" stroke="#b8335c" stroke-width="0.12" textLength="18.88" lengthAdjust="spacingAndGlyphs">MRD</text>
<text x="394.60" y="348.70" font-size="8.3" fill="#b8335c" font-weight="normal" font-style="normal" stroke="#b8335c" stroke-width="0.12" textLength="4.20" lengthAdjust="spacingAndGlyphs">≥</text>
<text x="398.65" y="348.70" font-size="8.3" fill="#b8335c" font-weight="normal" font-style="normal" stroke="#b8335c" stroke-width="0.12" textLength="10.14" lengthAdjust="spacingAndGlyphs">10</text>
<text x="408.16" y="345.10" font-size="5.2" fill="#b8335c" font-weight="normal" font-style="normal" stroke="#b8335c" stroke-width="0.12" textLength="6.60" lengthAdjust="spacingAndGlyphs">−4</text>
<text x="298.12" y="410.80" font-size="8.4" fill="#2a2a2a" font-weight="normal" font-style="normal" stroke="#2a2a2a" stroke-width="0.12" textLength="54.16" lengthAdjust="spacingAndGlyphs">Patients at risk</text>
<line x1="364.3" y1="401.9" x2="364.3" y2="453.2" stroke="#333" stroke-width="1.1"/>
<line x1="295.8" y1="416.2" x2="515.4" y2="416.2" stroke="#333" stroke-width="1.1"/>
<text x="366.68" y="410.80" font-size="8.4" fill="#2a2a2a" text-anchor="start" font-style="normal" font-weight="normal" stroke="#2a2a2a" stroke-width="0.12">0</text>
<text x="391.06" y="410.80" font-size="8.4" fill="#2a2a2a" text-anchor="start" font-style="normal" font-weight="normal" stroke="#2a2a2a" stroke-width="0.12">12</text>
<text x="416.48" y="410.80" font-size="8.4" fill="#2a2a2a" text-anchor="start" font-style="normal" font-weight="normal" stroke="#2a2a2a" stroke-width="0.12">24</text>
<text x="442.18" y="410.80" font-size="8.4" fill="#2a2a2a" text-anchor="start" font-style="normal" font-weight="normal" stroke="#2a2a2a" stroke-width="0.12">36</text>
<text x="468.12" y="410.80" font-size="8.4" fill="#2a2a2a" text-anchor="start" font-style="normal" font-weight="normal" stroke="#2a2a2a" stroke-width="0.12">48</text>
<text x="493.38" y="410.80" font-size="8.4" fill="#2a2a2a" text-anchor="start" font-style="normal" font-weight="normal" stroke="#2a2a2a" stroke-width="0.12">60</text>
<text x="298.36" y="426.30" font-size="8.4" fill="#3a6290" font-weight="normal" font-style="normal" stroke="#3a6290" stroke-width="0.12" textLength="5.40" lengthAdjust="spacingAndGlyphs">&lt;</text>
<text x="303.67" y="426.30" font-size="8.4" fill="#3a6290" font-weight="normal" font-style="normal" stroke="#3a6290" stroke-width="0.12" textLength="10.12" lengthAdjust="spacingAndGlyphs">10</text>
<text x="313.63" y="422.70" font-size="5.2" fill="#3a6290" font-weight="normal" font-style="normal" stroke="#3a6290" stroke-width="0.12" textLength="6.61" lengthAdjust="spacingAndGlyphs">−5</text>
<text x="366.68" y="426.30" font-size="8.4" fill="#2a2a2a" text-anchor="start" font-style="normal" font-weight="normal" stroke="#2a2a2a" stroke-width="0.12">18</text>
<text x="391.06" y="426.30" font-size="8.4" fill="#2a2a2a" text-anchor="start" font-style="normal" font-weight="normal" stroke="#2a2a2a" stroke-width="0.12">18</text>
<text x="416.48" y="426.30" font-size="8.4" fill="#2a2a2a" text-anchor="start" font-style="normal" font-weight="normal" stroke="#2a2a2a" stroke-width="0.12">16</text>
<text x="442.18" y="426.30" font-size="8.4" fill="#2a2a2a" text-anchor="start" font-style="normal" font-weight="normal" stroke="#2a2a2a" stroke-width="0.12">14</text>
<text x="468.12" y="426.30" font-size="8.4" fill="#2a2a2a" text-anchor="start" font-style="normal" font-weight="normal" stroke="#2a2a2a" stroke-width="0.12">12</text>
<text x="493.38" y="426.30" font-size="8.4" fill="#2a2a2a" text-anchor="start" font-style="normal" font-weight="normal" stroke="#2a2a2a" stroke-width="0.12">5</text>
<text x="298.53" y="438.60" font-size="8.4" fill="#4fa653" font-weight="normal" font-style="normal" stroke="#4fa653" stroke-width="0.12" textLength="4.60" lengthAdjust="spacingAndGlyphs">≥</text>
<text x="302.77" y="438.60" font-size="8.4" fill="#4fa653" font-weight="normal" font-style="normal" stroke="#4fa653" stroke-width="0.12" textLength="10.44" lengthAdjust="spacingAndGlyphs">10</text>
<text x="312.60" y="435.00" font-size="5.2" fill="#4fa653" font-weight="normal" font-style="normal" stroke="#4fa653" stroke-width="0.12" textLength="5.75" lengthAdjust="spacingAndGlyphs">−5</text>
<text x="320.80" y="438.60" font-size="8.4" fill="#4fa653" font-weight="normal" font-style="normal" stroke="#4fa653" stroke-width="0.12" textLength="5.71" lengthAdjust="spacingAndGlyphs">&amp;</text>
<text x="329.54" y="438.60" font-size="8.4" fill="#4fa653" font-weight="normal" font-style="normal" stroke="#4fa653" stroke-width="0.12" textLength="4.87" lengthAdjust="spacingAndGlyphs">&lt;</text>
<text x="333.86" y="438.60" font-size="8.4" fill="#4fa653" font-weight="normal" font-style="normal" stroke="#4fa653" stroke-width="0.12" textLength="11.12" lengthAdjust="spacingAndGlyphs">10</text>
<text x="344.33" y="435.00" font-size="5.2" fill="#4fa653" font-weight="normal" font-style="normal" stroke="#4fa653" stroke-width="0.12" textLength="6.33" lengthAdjust="spacingAndGlyphs">−4</text>
<text x="366.68" y="438.60" font-size="8.4" fill="#2a2a2a" text-anchor="start" font-style="normal" font-weight="normal" stroke="#2a2a2a" stroke-width="0.12">12</text>
<text x="391.06" y="438.60" font-size="8.4" fill="#2a2a2a" text-anchor="start" font-style="normal" font-weight="normal" stroke="#2a2a2a" stroke-width="0.12">11</text>
<text x="416.48" y="438.60" font-size="8.4" fill="#2a2a2a" text-anchor="start" font-style="normal" font-weight="normal" stroke="#2a2a2a" stroke-width="0.12">7</text>
<text x="442.18" y="438.60" font-size="8.4" fill="#2a2a2a" text-anchor="start" font-style="normal" font-weight="normal" stroke="#2a2a2a" stroke-width="0.12">4</text>
<text x="468.12" y="438.60" font-size="8.4" fill="#2a2a2a" text-anchor="start" font-style="normal" font-weight="normal" stroke="#2a2a2a" stroke-width="0.12">3</text>
<text x="298.52" y="450.30" font-size="8.4" fill="#b8335c" font-weight="normal" font-style="normal" stroke="#b8335c" stroke-width="0.12" textLength="4.75" lengthAdjust="spacingAndGlyphs">≥</text>
<text x="302.90" y="450.30" font-size="8.4" fill="#b8335c" font-weight="normal" font-style="normal" stroke="#b8335c" stroke-width="0.12" textLength="10.79" lengthAdjust="spacingAndGlyphs">10</text>
<text x="313.08" y="446.70" font-size="5.2" fill="#b8335c" font-weight="normal" font-style="normal" stroke="#b8335c" stroke-width="0.12" textLength="5.87" lengthAdjust="spacingAndGlyphs">−4</text>
<text x="366.68" y="450.30" font-size="8.4" fill="#2a2a2a" text-anchor="start" font-style="normal" font-weight="normal" stroke="#2a2a2a" stroke-width="0.12">37</text>
<text x="391.06" y="450.30" font-size="8.4" fill="#2a2a2a" text-anchor="start" font-style="normal" font-weight="normal" stroke="#2a2a2a" stroke-width="0.12">16</text>
<text x="416.48" y="450.30" font-size="8.4" fill="#2a2a2a" text-anchor="start" font-style="normal" font-weight="normal" stroke="#2a2a2a" stroke-width="0.12">6</text>
<text x="442.18" y="450.30" font-size="8.4" fill="#2a2a2a" text-anchor="start" font-style="normal" font-weight="normal" stroke="#2a2a2a" stroke-width="0.12">3</text>
<text x="468.12" y="450.30" font-size="8.4" fill="#2a2a2a" text-anchor="start" font-style="normal" font-weight="normal" stroke="#2a2a2a" stroke-width="0.12">2</text>
<text x="493.38" y="450.30" font-size="8.4" fill="#2a2a2a" text-anchor="start" font-style="normal" font-weight="normal" stroke="#2a2a2a" stroke-width="0.12">1</text>
<text x="0.50" y="479.00" font-size="11" fill="#111" font-weight="bold" font-style="normal" stroke="#111" stroke-width="0.35" textLength="7.12" lengthAdjust="spacingAndGlyphs">E</text>
<text x="21.45" y="493.15" font-size="8.6" fill="#2a2a2a" font-weight="normal" font-style="normal" stroke="#2a2a2a" stroke-width="0.12" textLength="11.88" lengthAdjust="spacingAndGlyphs">1,0</text>
<text x="21.78" y="514.79" font-size="8.6" fill="#2a2a2a" font-weight="normal" font-style="normal" stroke="#2a2a2a" stroke-width="0.12" textLength="11.57" lengthAdjust="spacingAndGlyphs">0,8</text>
<text x="21.78" y="536.43" font-size="8.6" fill="#2a2a2a" font-weight="normal" font-style="normal" stroke="#2a2a2a" stroke-width="0.12" textLength="11.58" lengthAdjust="spacingAndGlyphs">0,6</text>
<text x="21.79" y="558.07" font-size="8.6" fill="#2a2a2a" font-weight="normal" font-style="normal" stroke="#2a2a2a" stroke-width="0.12" textLength="11.44" lengthAdjust="spacingAndGlyphs">0,4</text>
<text x="21.78" y="579.71" font-size="8.6" fill="#2a2a2a" font-weight="normal" font-style="normal" stroke="#2a2a2a" stroke-width="0.12" textLength="11.64" lengthAdjust="spacingAndGlyphs">0,2</text>
<text x="21.78" y="601.35" font-size="8.6" fill="#2a2a2a" font-weight="normal" font-style="normal" stroke="#2a2a2a" stroke-width="0.12" textLength="11.53" lengthAdjust="spacingAndGlyphs">0,0</text>
<text x="34.29" y="614.60" font-size="8.3" fill="#2a2a2a" text-anchor="start" font-style="normal" font-weight="normal" stroke="#2a2a2a" stroke-width="0.12">0</text>
<text x="63.08" y="614.60" font-size="8.3" fill="#2a2a2a" text-anchor="start" font-style="normal" font-weight="normal" stroke="#2a2a2a" stroke-width="0.12">12</text>
<text x="94.29" y="614.60" font-size="8.3" fill="#2a2a2a" text-anchor="start" font-style="normal" font-weight="normal" stroke="#2a2a2a" stroke-width="0.12">24</text>
<text x="125.61" y="614.60" font-size="8.3" fill="#2a2a2a" text-anchor="start" font-style="normal" font-weight="normal" stroke="#2a2a2a" stroke-width="0.12">36</text>
<text x="156.87" y="614.60" font-size="8.3" fill="#2a2a2a" text-anchor="start" font-style="normal" font-weight="normal" stroke="#2a2a2a" stroke-width="0.12">48</text>
<text x="187.94" y="614.60" font-size="8.3" fill="#2a2a2a" text-anchor="start" font-style="normal" font-weight="normal" stroke="#2a2a2a" stroke-width="0.12">60</text>
<text x="219.19" y="614.60" font-size="8.3" fill="#2a2a2a" text-anchor="start" font-style="normal" font-weight="normal" stroke="#2a2a2a" stroke-width="0.12">72</text>
<text x="250.33" y="614.60" font-size="8.3" fill="#2a2a2a" text-anchor="start" font-style="normal" font-weight="normal" stroke="#2a2a2a" stroke-width="0.12">84</text>
<line x1="36.6" y1="482.5" x2="36.6" y2="604.75" stroke="#1a1a1a" stroke-width="1.45"/>
<line x1="35.95" y1="604.1" x2="255.1" y2="604.1" stroke="#1a1a1a" stroke-width="1.45"/>
<text x="91.33" y="628.20" font-size="9.4" fill="#333" font-weight="normal" font-style="normal" stroke="#333" stroke-width="0.12" textLength="103.32" lengthAdjust="spacingAndGlyphs">Time to event [TTNT] (months)</text>
<g transform="translate(16.1,543.3) rotate(-90)"><text x="-23.69" y="0" font-size="9.5" fill="#333" stroke="#333" stroke-width="0.12" textLength="47.51" lengthAdjust="spacingAndGlyphs">Cum. survival</text></g>
<text x="41.57" y="599.80" font-size="8.5" fill="#2a2a2a" font-weight="normal" font-style="italic" stroke="#2a2a2a" stroke-width="0.12" textLength="5.07" lengthAdjust="spacingAndGlyphs">P</text>
<text x="48.67" y="599.80" font-size="8.5" fill="#2a2a2a" font-weight="normal" font-style="normal" stroke="#2a2a2a" stroke-width="0.12" textLength="5.27" lengthAdjust="spacingAndGlyphs">&lt;</text>
<text x="56.07" y="599.80" font-size="8.5" fill="#2a2a2a" font-weight="normal" font-style="normal" stroke="#2a2a2a" stroke-width="0.12" textLength="15.82" lengthAdjust="spacingAndGlyphs">.001</text>
<path d="M36.6 488.8 H149.8 V496.1 H193.7 V512.9 H236.8" fill="none" stroke="#1b4274" stroke-width="1.5" stroke-linejoin="miter"/>
<line x1="89.4" y1="487.3" x2="89.4" y2="490.3" stroke="#1b4274" stroke-width="1.0"/>
<line x1="92.9" y1="487.3" x2="92.9" y2="490.3" stroke="#1b4274" stroke-width="1.0"/>
<line x1="124.4" y1="487.3" x2="124.4" y2="490.3" stroke="#1b4274" stroke-width="1.0"/>
<line x1="155.5" y1="494.6" x2="155.5" y2="497.6" stroke="#1b4274" stroke-width="1.0"/>
<line x1="164.4" y1="494.6" x2="164.4" y2="497.6" stroke="#1b4274" stroke-width="1.0"/>
<line x1="184" y1="494.6" x2="184" y2="497.6" stroke="#1b4274" stroke-width="1.0"/>
<line x1="184.8" y1="494.6" x2="184.8" y2="497.6" stroke="#1b4274" stroke-width="1.0"/>
<line x1="186.9" y1="494.6" x2="186.9" y2="497.6" stroke="#1b4274" stroke-width="1.0"/>
<line x1="192.7" y1="494.6" x2="192.7" y2="497.6" stroke="#1b4274" stroke-width="1.0"/>
<line x1="202.5" y1="511.4" x2="202.5" y2="514.4" stroke="#1b4274" stroke-width="1.0"/>
<line x1="204.5" y1="511.4" x2="204.5" y2="514.4" stroke="#1b4274" stroke-width="1.0"/>
<line x1="206.3" y1="511.4" x2="206.3" y2="514.4" stroke="#1b4274" stroke-width="1.0"/>
<line x1="212.6" y1="511.4" x2="212.6" y2="514.4" stroke="#1b4274" stroke-width="1.0"/>
<line x1="216.2" y1="511.4" x2="216.2" y2="514.4" stroke="#1b4274" stroke-width="1.0"/>
<line x1="236.8" y1="511.4" x2="236.8" y2="514.4" stroke="#1b4274" stroke-width="1.0"/>
<path d="M36.6 488.8 H142.5 V499.3 H143.2 V510.4 H207.9" fill="none" stroke="#30963a" stroke-width="1.5" stroke-linejoin="miter"/>
<line x1="71" y1="487.3" x2="71" y2="490.3" stroke="#30963a" stroke-width="1.0"/>
<line x1="114.8" y1="487.3" x2="114.8" y2="490.3" stroke="#30963a" stroke-width="1.0"/>
<line x1="163.8" y1="508.9" x2="163.8" y2="511.9" stroke="#30963a" stroke-width="1.0"/>
<line x1="170.2" y1="508.9" x2="170.2" y2="511.9" stroke="#30963a" stroke-width="1.0"/>
<line x1="173.7" y1="508.9" x2="173.7" y2="511.9" stroke="#30963a" stroke-width="1.0"/>
<line x1="185.2" y1="508.9" x2="185.2" y2="511.9" stroke="#30963a" stroke-width="1.0"/>
<line x1="192.1" y1="508.9" x2="192.1" y2="511.9" stroke="#30963a" stroke-width="1.0"/>
<line x1="207.9" y1="508.9" x2="207.9" y2="511.9" stroke="#30963a" stroke-width="1.0"/>
<path d="M36.6 488.8 H67.0 V492.10 H67.20 V495.50 H67.80 H74.4 V499.00 H75.00 V503.00 H76.20 V503.60 H78.50 V507.70 H79.60 V510.95 H80.20 V514.20 H80.80 H85.4 V517.50 H86.30 H91.2 V521.20 H92.10 H96.9 V523.80 H98.10 V526.10 H99.80 V528.40 H101.50 V531.90 H103.30 H110.8 V532.80 H111.70 V535.70 H112.10 H117.8 V539.70 H119.50 V540.60 H121.80 V544.05 H122.15 V547.50 H122.50 V551.30 H124.20 H139.1 V555.3 H143.2 V559.1 H155.2 V562.9 H170.6 V568.8 H217.9" fill="none" stroke="#aa123e" stroke-width="1.5" stroke-linejoin="miter"/>
<line x1="61" y1="487.3" x2="61" y2="490.3" stroke="#aa123e" stroke-width="1.0"/>
<line x1="63.5" y1="487.3" x2="63.5" y2="490.3" stroke="#aa123e" stroke-width="1.0"/>
<line x1="155.8" y1="561.4" x2="155.8" y2="564.4" stroke="#aa123e" stroke-width="1.0"/>
<line x1="168.8" y1="561.4" x2="168.8" y2="564.4" stroke="#aa123e" stroke-width="1.0"/>
<line x1="174.6" y1="567.3" x2="174.6" y2="570.3" stroke="#aa123e" stroke-width="1.0"/>
<line x1="176.3" y1="567.3" x2="176.3" y2="570.3" stroke="#aa123e" stroke-width="1.0"/>
<line x1="196" y1="567.3" x2="196" y2="570.3" stroke="#aa123e" stroke-width="1.0"/>
<line x1="202.9" y1="567.3" x2="202.9" y2="570.3" stroke="#aa123e" stroke-width="1.0"/>
<line x1="217.3" y1="567.3" x2="217.3" y2="570.3" stroke="#aa123e" stroke-width="1.0"/>
<text x="217.48" y="507.50" font-size="8.3" fill="#3a6290" font-weight="normal" font-style="normal" stroke="#3a6290" stroke-width="0.12" textLength="27.77" lengthAdjust="spacingAndGlyphs">uMRD5</text>
<text x="118.84" y="523.80" font-size="8.3" fill="#4fa653" font-weight="normal" font-style="normal" stroke="#4fa653" stroke-width="0.12" textLength="18.36" lengthAdjust="spacingAndGlyphs">MRD</text>
<text x="139.78" y="523.80" font-size="8.3" fill="#4fa653" font-weight="normal" font-style="normal" stroke="#4fa653" stroke-width="0.12" textLength="4.45" lengthAdjust="spacingAndGlyphs">&lt;</text>
<text x="144.05" y="523.80" font-size="8.3" fill="#4fa653" font-weight="normal" font-style="normal" stroke="#4fa653" stroke-width="0.12" textLength="10.14" lengthAdjust="spacingAndGlyphs">10</text>
<text x="153.84" y="520.20" font-size="5.2" fill="#4fa653" font-weight="normal" font-style="normal" stroke="#4fa653" stroke-width="0.12" textLength="7.02" lengthAdjust="spacingAndGlyphs">−4</text>
<text x="163.00" y="523.80" font-size="8.3" fill="#4fa653" font-weight="normal" font-style="normal" stroke="#4fa653" stroke-width="0.12" textLength="11.44" lengthAdjust="spacingAndGlyphs">but</text>
<text x="176.98" y="523.80" font-size="8.3" fill="#4fa653" font-weight="normal" font-style="normal" stroke="#4fa653" stroke-width="0.12" textLength="4.20" lengthAdjust="spacingAndGlyphs">≥</text>
<text x="181.28" y="523.80" font-size="8.3" fill="#4fa653" font-weight="normal" font-style="normal" stroke="#4fa653" stroke-width="0.12" textLength="9.38" lengthAdjust="spacingAndGlyphs">10</text>
<text x="190.57" y="520.20" font-size="5.2" fill="#4fa653" font-weight="normal" font-style="normal" stroke="#4fa653" stroke-width="0.12" textLength="6.16" lengthAdjust="spacingAndGlyphs">−5</text>
<text x="175.31" y="564.10" font-size="8.3" fill="#b8335c" font-weight="normal" font-style="normal" stroke="#b8335c" stroke-width="0.12" textLength="19.30" lengthAdjust="spacingAndGlyphs">MRD</text>
<text x="196.85" y="564.10" font-size="8.3" fill="#b8335c" font-weight="normal" font-style="normal" stroke="#b8335c" stroke-width="0.12" textLength="4.29" lengthAdjust="spacingAndGlyphs">≥</text>
<text x="200.99" y="564.10" font-size="8.3" fill="#b8335c" font-weight="normal" font-style="normal" stroke="#b8335c" stroke-width="0.12" textLength="10.37" lengthAdjust="spacingAndGlyphs">10</text>
<text x="210.72" y="560.50" font-size="5.2" fill="#b8335c" font-weight="normal" font-style="normal" stroke="#b8335c" stroke-width="0.12" textLength="6.75" lengthAdjust="spacingAndGlyphs">−4</text>
<text x="24.32" y="646.40" font-size="8.4" fill="#2a2a2a" font-weight="normal" font-style="normal" stroke="#2a2a2a" stroke-width="0.12" textLength="54.47" lengthAdjust="spacingAndGlyphs">Patients at risk</text>
<line x1="93.5" y1="636.5" x2="93.5" y2="689.5" stroke="#333" stroke-width="1.1"/>
<line x1="21.5" y1="651.2" x2="253.4" y2="651.2" stroke="#333" stroke-width="1.1"/>
<text x="96.68" y="646.40" font-size="8.4" fill="#2a2a2a" text-anchor="start" font-style="normal" font-weight="normal" stroke="#2a2a2a" stroke-width="0.12">0</text>
<text x="122.06" y="646.40" font-size="8.4" fill="#2a2a2a" text-anchor="start" font-style="normal" font-weight="normal" stroke="#2a2a2a" stroke-width="0.12">12</text>
<text x="148.38" y="646.40" font-size="8.4" fill="#2a2a2a" text-anchor="start" font-style="normal" font-weight="normal" stroke="#2a2a2a" stroke-width="0.12">24</text>
<text x="175.28" y="646.40" font-size="8.4" fill="#2a2a2a" text-anchor="start" font-style="normal" font-weight="normal" stroke="#2a2a2a" stroke-width="0.12">36</text>
<text x="202.52" y="646.40" font-size="8.4" fill="#2a2a2a" text-anchor="start" font-style="normal" font-weight="normal" stroke="#2a2a2a" stroke-width="0.12">48</text>
<text x="229.48" y="646.40" font-size="8.4" fill="#2a2a2a" text-anchor="start" font-style="normal" font-weight="normal" stroke="#2a2a2a" stroke-width="0.12">60</text>
<text x="24.56" y="661.60" font-size="8.4" fill="#3a6290" font-weight="normal" font-style="normal" stroke="#3a6290" stroke-width="0.12" textLength="5.30" lengthAdjust="spacingAndGlyphs">&lt;</text>
<text x="29.78" y="661.60" font-size="8.4" fill="#3a6290" font-weight="normal" font-style="normal" stroke="#3a6290" stroke-width="0.12" textLength="9.93" lengthAdjust="spacingAndGlyphs">10</text>
<text x="39.55" y="658.00" font-size="5.2" fill="#3a6290" font-weight="normal" font-style="normal" stroke="#3a6290" stroke-width="0.12" textLength="6.49" lengthAdjust="spacingAndGlyphs">−5</text>
<text x="96.68" y="661.60" font-size="8.4" fill="#2a2a2a" text-anchor="start" font-style="normal" font-weight="normal" stroke="#2a2a2a" stroke-width="0.12">18</text>
<text x="122.06" y="661.60" font-size="8.4" fill="#2a2a2a" text-anchor="start" font-style="normal" font-weight="normal" stroke="#2a2a2a" stroke-width="0.12">18</text>
<text x="148.38" y="661.60" font-size="8.4" fill="#2a2a2a" text-anchor="start" font-style="normal" font-weight="normal" stroke="#2a2a2a" stroke-width="0.12">16</text>
<text x="175.28" y="661.60" font-size="8.4" fill="#2a2a2a" text-anchor="start" font-style="normal" font-weight="normal" stroke="#2a2a2a" stroke-width="0.12">15</text>
<text x="202.52" y="661.60" font-size="8.4" fill="#2a2a2a" text-anchor="start" font-style="normal" font-weight="normal" stroke="#2a2a2a" stroke-width="0.12">13</text>
<text x="229.48" y="661.60" font-size="8.4" fill="#2a2a2a" text-anchor="start" font-style="normal" font-weight="normal" stroke="#2a2a2a" stroke-width="0.12">6</text>
<text x="24.73" y="673.80" font-size="8.4" fill="#4fa653" font-weight="normal" font-style="normal" stroke="#4fa653" stroke-width="0.12" textLength="4.62" lengthAdjust="spacingAndGlyphs">≥</text>
<text x="28.98" y="673.80" font-size="8.4" fill="#4fa653" font-weight="normal" font-style="normal" stroke="#4fa653" stroke-width="0.12" textLength="10.48" lengthAdjust="spacingAndGlyphs">10</text>
<text x="38.86" y="670.20" font-size="5.2" fill="#4fa653" font-weight="normal" font-style="normal" stroke="#4fa653" stroke-width="0.12" textLength="5.77" lengthAdjust="spacingAndGlyphs">−5</text>
<text x="47.08" y="673.80" font-size="8.4" fill="#4fa653" font-weight="normal" font-style="normal" stroke="#4fa653" stroke-width="0.12" textLength="5.73" lengthAdjust="spacingAndGlyphs">&amp;</text>
<text x="55.86" y="673.80" font-size="8.4" fill="#4fa653" font-weight="normal" font-style="normal" stroke="#4fa653" stroke-width="0.12" textLength="4.89" lengthAdjust="spacingAndGlyphs">&lt;</text>
<text x="60.20" y="673.80" font-size="8.4" fill="#4fa653" font-weight="normal" font-style="normal" stroke="#4fa653" stroke-width="0.12" textLength="11.16" lengthAdjust="spacingAndGlyphs">10</text>
<text x="70.71" y="670.20" font-size="5.2" fill="#4fa653" font-weight="normal" font-style="normal" stroke="#4fa653" stroke-width="0.12" textLength="6.35" lengthAdjust="spacingAndGlyphs">−4</text>
<text x="96.68" y="673.80" font-size="8.4" fill="#2a2a2a" text-anchor="start" font-style="normal" font-weight="normal" stroke="#2a2a2a" stroke-width="0.12">12</text>
<text x="122.06" y="673.80" font-size="8.4" fill="#2a2a2a" text-anchor="start" font-style="normal" font-weight="normal" stroke="#2a2a2a" stroke-width="0.12">12</text>
<text x="148.38" y="673.80" font-size="8.4" fill="#2a2a2a" text-anchor="start" font-style="normal" font-weight="normal" stroke="#2a2a2a" stroke-width="0.12">11</text>
<text x="175.28" y="673.80" font-size="8.4" fill="#2a2a2a" text-anchor="start" font-style="normal" font-weight="normal" stroke="#2a2a2a" stroke-width="0.12">10</text>
<text x="202.52" y="673.80" font-size="8.4" fill="#2a2a2a" text-anchor="start" font-style="normal" font-weight="normal" stroke="#2a2a2a" stroke-width="0.12">8</text>
<text x="229.48" y="673.80" font-size="8.4" fill="#2a2a2a" text-anchor="start" font-style="normal" font-weight="normal" stroke="#2a2a2a" stroke-width="0.12">1</text>
<text x="24.74" y="686.00" font-size="8.4" fill="#b8335c" font-weight="normal" font-style="normal" stroke="#b8335c" stroke-width="0.12" textLength="4.40" lengthAdjust="spacingAndGlyphs">≥</text>
<text x="28.80" y="686.00" font-size="8.4" fill="#b8335c" font-weight="normal" font-style="normal" stroke="#b8335c" stroke-width="0.12" textLength="9.98" lengthAdjust="spacingAndGlyphs">10</text>
<text x="38.21" y="682.40" font-size="5.2" fill="#b8335c" font-weight="normal" font-style="normal" stroke="#b8335c" stroke-width="0.12" textLength="5.43" lengthAdjust="spacingAndGlyphs">−4</text>
<text x="96.68" y="686.00" font-size="8.4" fill="#2a2a2a" text-anchor="start" font-style="normal" font-weight="normal" stroke="#2a2a2a" stroke-width="0.12">37</text>
<text x="122.06" y="686.00" font-size="8.4" fill="#2a2a2a" text-anchor="start" font-style="normal" font-weight="normal" stroke="#2a2a2a" stroke-width="0.12">28</text>
<text x="148.38" y="686.00" font-size="8.4" fill="#2a2a2a" text-anchor="start" font-style="normal" font-weight="normal" stroke="#2a2a2a" stroke-width="0.12">20</text>
<text x="175.28" y="686.00" font-size="8.4" fill="#2a2a2a" text-anchor="start" font-style="normal" font-weight="normal" stroke="#2a2a2a" stroke-width="0.12">12</text>
<text x="202.52" y="686.00" font-size="8.4" fill="#2a2a2a" text-anchor="start" font-style="normal" font-weight="normal" stroke="#2a2a2a" stroke-width="0.12">7</text>
<text x="229.48" y="686.00" font-size="8.4" fill="#2a2a2a" text-anchor="start" font-style="normal" font-weight="normal" stroke="#2a2a2a" stroke-width="0.12">3</text>
<text x="258.59" y="479.00" font-size="11" fill="#111" font-weight="bold" font-style="normal" stroke="#111" stroke-width="0.35" textLength="7.46" lengthAdjust="spacingAndGlyphs">F</text>
<text x="280.65" y="493.35" font-size="8.6" fill="#2a2a2a" font-weight="normal" font-style="normal" stroke="#2a2a2a" stroke-width="0.12" textLength="11.88" lengthAdjust="spacingAndGlyphs">1,0</text>
<text x="280.98" y="514.99" font-size="8.6" fill="#2a2a2a" font-weight="normal" font-style="normal" stroke="#2a2a2a" stroke-width="0.12" textLength="11.57" lengthAdjust="spacingAndGlyphs">0,8</text>
<text x="280.98" y="536.63" font-size="8.6" fill="#2a2a2a" font-weight="normal" font-style="normal" stroke="#2a2a2a" stroke-width="0.12" textLength="11.58" lengthAdjust="spacingAndGlyphs">0,6</text>
<text x="280.99" y="558.27" font-size="8.6" fill="#2a2a2a" font-weight="normal" font-style="normal" stroke="#2a2a2a" stroke-width="0.12" textLength="11.44" lengthAdjust="spacingAndGlyphs">0,4</text>
<text x="280.98" y="579.91" font-size="8.6" fill="#2a2a2a" font-weight="normal" font-style="normal" stroke="#2a2a2a" stroke-width="0.12" textLength="11.64" lengthAdjust="spacingAndGlyphs">0,2</text>
<text x="280.98" y="601.55" font-size="8.6" fill="#2a2a2a" font-weight="normal" font-style="normal" stroke="#2a2a2a" stroke-width="0.12" textLength="11.53" lengthAdjust="spacingAndGlyphs">0,0</text>
<text x="292.99" y="614.40" font-size="8.3" fill="#2a2a2a" text-anchor="start" font-style="normal" font-weight="normal" stroke="#2a2a2a" stroke-width="0.12">0</text>
<text x="320.22" y="614.40" font-size="8.3" fill="#2a2a2a" text-anchor="start" font-style="normal" font-weight="normal" stroke="#2a2a2a" stroke-width="0.12">12</text>
<text x="349.87" y="614.40" font-size="8.3" fill="#2a2a2a" text-anchor="start" font-style="normal" font-weight="normal" stroke="#2a2a2a" stroke-width="0.12">24</text>
<text x="379.63" y="614.40" font-size="8.3" fill="#2a2a2a" text-anchor="start" font-style="normal" font-weight="normal" stroke="#2a2a2a" stroke-width="0.12">36</text>
<text x="409.33" y="614.40" font-size="8.3" fill="#2a2a2a" text-anchor="start" font-style="normal" font-weight="normal" stroke="#2a2a2a" stroke-width="0.12">48</text>
<text x="438.84" y="614.40" font-size="8.3" fill="#2a2a2a" text-anchor="start" font-style="normal" font-weight="normal" stroke="#2a2a2a" stroke-width="0.12">60</text>
<text x="468.53" y="614.40" font-size="8.3" fill="#2a2a2a" text-anchor="start" font-style="normal" font-weight="normal" stroke="#2a2a2a" stroke-width="0.12">72</text>
<text x="498.11" y="614.40" font-size="8.3" fill="#2a2a2a" text-anchor="start" font-style="normal" font-weight="normal" stroke="#2a2a2a" stroke-width="0.12">84</text>
<line x1="295.4" y1="483.1" x2="295.4" y2="604.75" stroke="#1a1a1a" stroke-width="1.45"/>
<line x1="294.75" y1="604.1" x2="514.1" y2="604.1" stroke="#1a1a1a" stroke-width="1.45"/>
<text x="356.03" y="628.30" font-size="9.4" fill="#333" font-weight="normal" font-style="normal" stroke="#333" stroke-width="0.12" textLength="97.95" lengthAdjust="spacingAndGlyphs">Time to event [OS] (months)</text>
<g transform="translate(275.1,543.5) rotate(-90)"><text x="-23.69" y="0" font-size="9.5" fill="#333" stroke="#333" stroke-width="0.12" textLength="47.51" lengthAdjust="spacingAndGlyphs">Cum. survival</text></g>
<text x="299.57" y="599.80" font-size="8.5" fill="#2a2a2a" font-weight="normal" font-style="italic" stroke="#2a2a2a" stroke-width="0.12" textLength="5.07" lengthAdjust="spacingAndGlyphs">P</text>
<text x="306.67" y="599.80" font-size="8.5" fill="#2a2a2a" font-weight="normal" font-style="normal" stroke="#2a2a2a" stroke-width="0.12" textLength="5.27" lengthAdjust="spacingAndGlyphs">=</text>
<text x="314.04" y="599.80" font-size="8.5" fill="#2a2a2a" font-weight="normal" font-style="normal" stroke="#2a2a2a" stroke-width="0.12" textLength="16.52" lengthAdjust="spacingAndGlyphs">.035</text>
<path d="M295.4 488.7 H349.6 V494.7 H351.7 V500.6 H391.5 V506.9 H486.7" fill="none" stroke="#1b4274" stroke-width="1.5" stroke-linejoin="miter"/>
<line x1="418.3" y1="505.4" x2="418.3" y2="508.4" stroke="#1b4274" stroke-width="1.0"/>
<line x1="424" y1="505.4" x2="424" y2="508.4" stroke="#1b4274" stroke-width="1.0"/>
<line x1="435.6" y1="505.4" x2="435.6" y2="508.4" stroke="#1b4274" stroke-width="1.0"/>
<line x1="437.5" y1="505.4" x2="437.5" y2="508.4" stroke="#1b4274" stroke-width="1.0"/>
<line x1="441.3" y1="505.4" x2="441.3" y2="508.4" stroke="#1b4274" stroke-width="1.0"/>
<line x1="443.3" y1="505.4" x2="443.3" y2="508.4" stroke="#1b4274" stroke-width="1.0"/>
<line x1="454.8" y1="505.4" x2="454.8" y2="508.4" stroke="#1b4274" stroke-width="1.0"/>
<line x1="457.7" y1="505.4" x2="457.7" y2="508.4" stroke="#1b4274" stroke-width="1.0"/>
<line x1="461.5" y1="505.4" x2="461.5" y2="508.4" stroke="#1b4274" stroke-width="1.0"/>
<line x1="465.4" y1="505.4" x2="465.4" y2="508.4" stroke="#1b4274" stroke-width="1.0"/>
<line x1="486.5" y1="505.4" x2="486.5" y2="508.4" stroke="#1b4274" stroke-width="1.0"/>
<path d="M295.4 488.5 H371.2 V497.6 H429.9 V512.6 H482.75" fill="none" stroke="#30963a" stroke-width="1.5" stroke-linejoin="miter"/>
<line x1="420" y1="496.1" x2="420" y2="499.1" stroke="#30963a" stroke-width="1.0"/>
<line x1="422.1" y1="496.1" x2="422.1" y2="499.1" stroke="#30963a" stroke-width="1.0"/>
<line x1="424.7" y1="496.1" x2="424.7" y2="499.1" stroke="#30963a" stroke-width="1.0"/>
<line x1="427.3" y1="496.1" x2="427.3" y2="499.1" stroke="#30963a" stroke-width="1.0"/>
<line x1="440.8" y1="511.1" x2="440.8" y2="514.1" stroke="#30963a" stroke-width="1.0"/>
<line x1="446.2" y1="511.1" x2="446.2" y2="514.1" stroke="#30963a" stroke-width="1.0"/>
<line x1="451.9" y1="511.1" x2="451.9" y2="514.1" stroke="#30963a" stroke-width="1.0"/>
<line x1="457.7" y1="511.1" x2="457.7" y2="514.1" stroke="#30963a" stroke-width="1.0"/>
<line x1="466.3" y1="511.1" x2="466.3" y2="514.1" stroke="#30963a" stroke-width="1.0"/>
<line x1="482.7" y1="511.1" x2="482.7" y2="514.1" stroke="#30963a" stroke-width="1.0"/>
<path d="M295.4 488.7 H325.6 V491.5 H349.6 V493.0 H353.1 V494.5 H362.4 V497.9 H372.7 V500.4 H378.2 V503.9 H387.6 V510.9 H400.5 V514.60 H401.30 V516.30 H403.40 H407.9 V518.50 H409.10 V520.70 H410.30 V523.30 H413.40 V526.70 H415.20 V528.10 H415.60 V529.60 H419.20 V533.20 H420.20 H439.4 V536.40 H439.90 V539.60 H440.40 V540.60 H443.30 V542.90 H443.75 V545.20 H444.20 H457.5 V555.3 H484.75" fill="none" stroke="#aa123e" stroke-width="1.5" stroke-linejoin="miter"/>
<line x1="321.9" y1="487.2" x2="321.9" y2="490.2" stroke="#aa123e" stroke-width="1.0"/>
<line x1="428.5" y1="531.7" x2="428.5" y2="534.7" stroke="#aa123e" stroke-width="1.0"/>
<line x1="434.6" y1="531.7" x2="434.6" y2="534.7" stroke="#aa123e" stroke-width="1.0"/>
<line x1="448" y1="543.7" x2="448" y2="546.7" stroke="#aa123e" stroke-width="1.0"/>
<line x1="450.4" y1="543.7" x2="450.4" y2="546.7" stroke="#aa123e" stroke-width="1.0"/>
<line x1="454.8" y1="543.7" x2="454.8" y2="546.7" stroke="#aa123e" stroke-width="1.0"/>
<line x1="464.4" y1="553.8" x2="464.4" y2="556.8" stroke="#aa123e" stroke-width="1.0"/>
<line x1="468.3" y1="553.8" x2="468.3" y2="556.8" stroke="#aa123e" stroke-width="1.0"/>
<line x1="472.1" y1="553.8" x2="472.1" y2="556.8" stroke="#aa123e" stroke-width="1.0"/>
<line x1="483.7" y1="553.8" x2="483.7" y2="556.8" stroke="#aa123e" stroke-width="1.0"/>
<text x="466.71" y="501.90" font-size="8.3" fill="#3a6290" font-weight="normal" font-style="normal" stroke="#3a6290" stroke-width="0.12" textLength="28.64" lengthAdjust="spacingAndGlyphs">uMRD5</text>
<text x="419.52" y="523.60" font-size="8.3" fill="#4fa653" font-weight="normal" font-style="normal" stroke="#4fa653" stroke-width="0.12" textLength="18.88" lengthAdjust="spacingAndGlyphs">MRD</text>
<text x="441.06" y="523.60" font-size="8.3" fill="#4fa653" font-weight="normal" font-style="normal" stroke="#4fa653" stroke-width="0.12" textLength="4.58" lengthAdjust="spacingAndGlyphs">&lt;</text>
<text x="445.45" y="523.60" font-size="8.3" fill="#4fa653" font-weight="normal" font-style="normal" stroke="#4fa653" stroke-width="0.12" textLength="10.43" lengthAdjust="spacingAndGlyphs">10</text>
<text x="455.52" y="520.00" font-size="5.2" fill="#4fa653" font-weight="normal" font-style="normal" stroke="#4fa653" stroke-width="0.12" textLength="7.23" lengthAdjust="spacingAndGlyphs">−4</text>
<text x="464.94" y="523.60" font-size="8.3" fill="#4fa653" font-weight="normal" font-style="normal" stroke="#4fa653" stroke-width="0.12" textLength="11.76" lengthAdjust="spacingAndGlyphs">but</text>
<text x="479.32" y="523.60" font-size="8.3" fill="#4fa653" font-weight="normal" font-style="normal" stroke="#4fa653" stroke-width="0.12" textLength="4.32" lengthAdjust="spacingAndGlyphs">≥</text>
<text x="483.75" y="523.60" font-size="8.3" fill="#4fa653" font-weight="normal" font-style="normal" stroke="#4fa653" stroke-width="0.12" textLength="9.65" lengthAdjust="spacingAndGlyphs">10</text>
<text x="493.30" y="520.00" font-size="5.2" fill="#4fa653" font-weight="normal" font-style="normal" stroke="#4fa653" stroke-width="0.12" textLength="6.34" lengthAdjust="spacingAndGlyphs">−5</text>
<text x="463.32" y="552.50" font-size="8.3" fill="#b8335c" font-weight="normal" font-style="normal" stroke="#b8335c" stroke-width="0.12" textLength="18.88" lengthAdjust="spacingAndGlyphs">MRD</text>
<text x="484.40" y="552.50" font-size="8.3" fill="#b8335c" font-weight="normal" font-style="normal" stroke="#b8335c" stroke-width="0.12" textLength="4.20" lengthAdjust="spacingAndGlyphs">≥</text>
<text x="488.45" y="552.50" font-size="8.3" fill="#b8335c" font-weight="normal" font-style="normal" stroke="#b8335c" stroke-width="0.12" textLength="10.14" lengthAdjust="spacingAndGlyphs">10</text>
<text x="497.96" y="548.90" font-size="5.2" fill="#b8335c" font-weight="normal" font-style="normal" stroke="#b8335c" stroke-width="0.12" textLength="6.60" lengthAdjust="spacingAndGlyphs">−4</text>
<text x="293.32" y="646.30" font-size="8.4" fill="#2a2a2a" font-weight="normal" font-style="normal" stroke="#2a2a2a" stroke-width="0.12" textLength="54.36" lengthAdjust="spacingAndGlyphs">Patients at risk</text>
<line x1="361.3" y1="636.5" x2="361.3" y2="689.5" stroke="#333" stroke-width="1.1"/>
<line x1="284.1" y1="651.3" x2="517.0" y2="651.3" stroke="#333" stroke-width="1.1"/>
<text x="364.28" y="646.30" font-size="8.4" fill="#2a2a2a" text-anchor="start" font-style="normal" font-weight="normal" stroke="#2a2a2a" stroke-width="0.12">0</text>
<text x="384.96" y="646.30" font-size="8.4" fill="#2a2a2a" text-anchor="start" font-style="normal" font-weight="normal" stroke="#2a2a2a" stroke-width="0.12">12</text>
<text x="407.28" y="646.30" font-size="8.4" fill="#2a2a2a" text-anchor="start" font-style="normal" font-weight="normal" stroke="#2a2a2a" stroke-width="0.12">24</text>
<text x="429.48" y="646.30" font-size="8.4" fill="#2a2a2a" text-anchor="start" font-style="normal" font-weight="normal" stroke="#2a2a2a" stroke-width="0.12">36</text>
<text x="452.62" y="646.30" font-size="8.4" fill="#2a2a2a" text-anchor="start" font-style="normal" font-weight="normal" stroke="#2a2a2a" stroke-width="0.12">48</text>
<text x="474.58" y="646.30" font-size="8.4" fill="#2a2a2a" text-anchor="start" font-style="normal" font-weight="normal" stroke="#2a2a2a" stroke-width="0.12">60</text>
<text x="497.48" y="646.30" font-size="8.4" fill="#2a2a2a" text-anchor="start" font-style="normal" font-weight="normal" stroke="#2a2a2a" stroke-width="0.12">72</text>
<text x="293.57" y="661.70" font-size="8.4" fill="#3a6290" font-weight="normal" font-style="normal" stroke="#3a6290" stroke-width="0.12" textLength="5.20" lengthAdjust="spacingAndGlyphs">&lt;</text>
<text x="298.69" y="661.70" font-size="8.4" fill="#3a6290" font-weight="normal" font-style="normal" stroke="#3a6290" stroke-width="0.12" textLength="9.74" lengthAdjust="spacingAndGlyphs">10</text>
<text x="308.27" y="658.10" font-size="5.2" fill="#3a6290" font-weight="normal" font-style="normal" stroke="#3a6290" stroke-width="0.12" textLength="6.36" lengthAdjust="spacingAndGlyphs">−5</text>
<text x="364.28" y="661.70" font-size="8.4" fill="#2a2a2a" text-anchor="start" font-style="normal" font-weight="normal" stroke="#2a2a2a" stroke-width="0.12">18</text>
<text x="384.96" y="661.70" font-size="8.4" fill="#2a2a2a" text-anchor="start" font-style="normal" font-weight="normal" stroke="#2a2a2a" stroke-width="0.12">18</text>
<text x="407.28" y="661.70" font-size="8.4" fill="#2a2a2a" text-anchor="start" font-style="normal" font-weight="normal" stroke="#2a2a2a" stroke-width="0.12">16</text>
<text x="429.48" y="661.70" font-size="8.4" fill="#2a2a2a" text-anchor="start" font-style="normal" font-weight="normal" stroke="#2a2a2a" stroke-width="0.12">16</text>
<text x="452.62" y="661.70" font-size="8.4" fill="#2a2a2a" text-anchor="start" font-style="normal" font-weight="normal" stroke="#2a2a2a" stroke-width="0.12">15</text>
<text x="474.58" y="661.70" font-size="8.4" fill="#2a2a2a" text-anchor="start" font-style="normal" font-weight="normal" stroke="#2a2a2a" stroke-width="0.12">8</text>
<text x="497.48" y="661.70" font-size="8.4" fill="#2a2a2a" text-anchor="start" font-style="normal" font-weight="normal" stroke="#2a2a2a" stroke-width="0.12">1</text>
<text x="293.73" y="673.90" font-size="8.4" fill="#4fa653" font-weight="normal" font-style="normal" stroke="#4fa653" stroke-width="0.12" textLength="4.67" lengthAdjust="spacingAndGlyphs">≥</text>
<text x="298.03" y="673.90" font-size="8.4" fill="#4fa653" font-weight="normal" font-style="normal" stroke="#4fa653" stroke-width="0.12" textLength="10.60" lengthAdjust="spacingAndGlyphs">10</text>
<text x="308.02" y="670.30" font-size="5.2" fill="#4fa653" font-weight="normal" font-style="normal" stroke="#4fa653" stroke-width="0.12" textLength="5.84" lengthAdjust="spacingAndGlyphs">−5</text>
<text x="316.34" y="673.90" font-size="8.4" fill="#4fa653" font-weight="normal" font-style="normal" stroke="#4fa653" stroke-width="0.12" textLength="5.80" lengthAdjust="spacingAndGlyphs">&amp;</text>
<text x="325.22" y="673.90" font-size="8.4" fill="#4fa653" font-weight="normal" font-style="normal" stroke="#4fa653" stroke-width="0.12" textLength="4.95" lengthAdjust="spacingAndGlyphs">&lt;</text>
<text x="329.61" y="673.90" font-size="8.4" fill="#4fa653" font-weight="normal" font-style="normal" stroke="#4fa653" stroke-width="0.12" textLength="11.29" lengthAdjust="spacingAndGlyphs">10</text>
<text x="340.24" y="670.30" font-size="5.2" fill="#4fa653" font-weight="normal" font-style="normal" stroke="#4fa653" stroke-width="0.12" textLength="6.42" lengthAdjust="spacingAndGlyphs">−4</text>
<text x="364.28" y="673.90" font-size="8.4" fill="#2a2a2a" text-anchor="start" font-style="normal" font-weight="normal" stroke="#2a2a2a" stroke-width="0.12">12</text>
<text x="384.96" y="673.90" font-size="8.4" fill="#2a2a2a" text-anchor="start" font-style="normal" font-weight="normal" stroke="#2a2a2a" stroke-width="0.12">12</text>
<text x="407.28" y="673.90" font-size="8.4" fill="#2a2a2a" text-anchor="start" font-style="normal" font-weight="normal" stroke="#2a2a2a" stroke-width="0.12">12</text>
<text x="429.48" y="673.90" font-size="8.4" fill="#2a2a2a" text-anchor="start" font-style="normal" font-weight="normal" stroke="#2a2a2a" stroke-width="0.12">11</text>
<text x="452.62" y="673.90" font-size="8.4" fill="#2a2a2a" text-anchor="start" font-style="normal" font-weight="normal" stroke="#2a2a2a" stroke-width="0.12">11</text>
<text x="474.58" y="673.90" font-size="8.4" fill="#2a2a2a" text-anchor="start" font-style="normal" font-weight="normal" stroke="#2a2a2a" stroke-width="0.12">5</text>
<text x="497.48" y="673.90" font-size="8.4" fill="#2a2a2a" text-anchor="start" font-style="normal" font-weight="normal" stroke="#2a2a2a" stroke-width="0.12">1</text>
<text x="293.73" y="685.80" font-size="8.4" fill="#b8335c" font-weight="normal" font-style="normal" stroke="#b8335c" stroke-width="0.12" textLength="4.71" lengthAdjust="spacingAndGlyphs">≥</text>
<text x="298.06" y="685.80" font-size="8.4" fill="#b8335c" font-weight="normal" font-style="normal" stroke="#b8335c" stroke-width="0.12" textLength="10.69" lengthAdjust="spacingAndGlyphs">10</text>
<text x="308.14" y="682.20" font-size="5.2" fill="#b8335c" font-weight="normal" font-style="normal" stroke="#b8335c" stroke-width="0.12" textLength="5.81" lengthAdjust="spacingAndGlyphs">−4</text>
<text x="364.28" y="685.80" font-size="8.4" fill="#2a2a2a" text-anchor="start" font-style="normal" font-weight="normal" stroke="#2a2a2a" stroke-width="0.12">37</text>
<text x="384.96" y="685.80" font-size="8.4" fill="#2a2a2a" text-anchor="start" font-style="normal" font-weight="normal" stroke="#2a2a2a" stroke-width="0.12">36</text>
<text x="407.28" y="685.80" font-size="8.4" fill="#2a2a2a" text-anchor="start" font-style="normal" font-weight="normal" stroke="#2a2a2a" stroke-width="0.12">34</text>
<text x="429.48" y="685.80" font-size="8.4" fill="#2a2a2a" text-anchor="start" font-style="normal" font-weight="normal" stroke="#2a2a2a" stroke-width="0.12">30</text>
<text x="452.62" y="685.80" font-size="8.4" fill="#2a2a2a" text-anchor="start" font-style="normal" font-weight="normal" stroke="#2a2a2a" stroke-width="0.12">22</text>
<text x="474.58" y="685.80" font-size="8.4" fill="#2a2a2a" text-anchor="start" font-style="normal" font-weight="normal" stroke="#2a2a2a" stroke-width="0.12">10</text>
<text x="497.48" y="685.80" font-size="8.4" fill="#2a2a2a" text-anchor="start" font-style="normal" font-weight="normal" stroke="#2a2a2a" stroke-width="0.12">1</text>
</svg></body></html>
